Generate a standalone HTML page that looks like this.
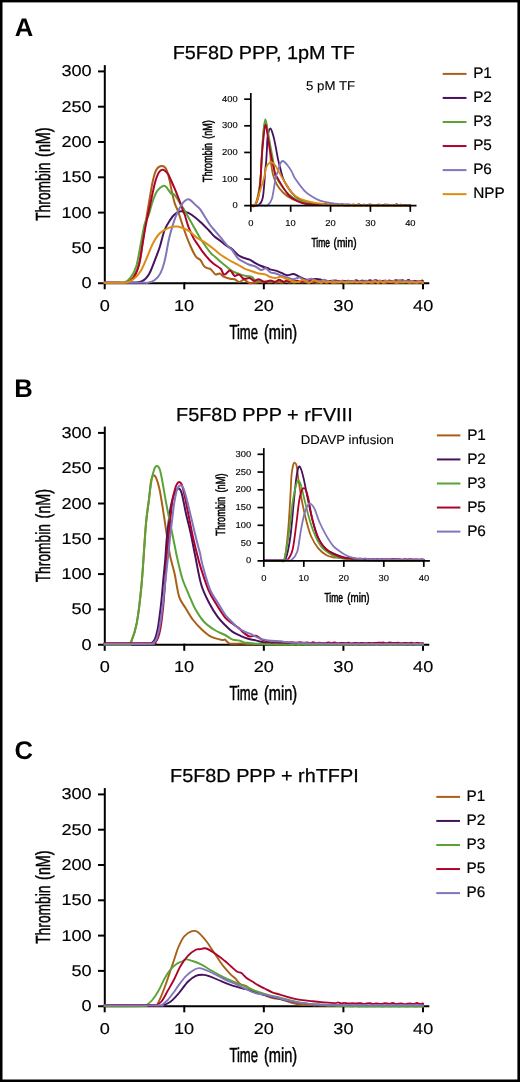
<!DOCTYPE html>
<html><head><meta charset="utf-8"><style>html,body{margin:0;padding:0;background:#fff;overflow:hidden}svg{display:block;will-change:transform}</style></head><body>
<svg width="520" height="1082" viewBox="0 0 520 1082" font-family="Liberation Sans, sans-serif" text-rendering="geometricPrecision">
<rect width="520" height="1082" fill="#fff"/>
<text transform="translate(14.68,35.90) scale(1.000,1)" font-size="25.60" font-weight="bold" fill="#000">A</text>
<line x1="104.80" y1="65.10" x2="104.80" y2="284.20" stroke="#000" stroke-width="2" stroke-linecap="butt"/>
<line x1="98.00" y1="283.20" x2="429.30" y2="283.20" stroke="#000" stroke-width="2" stroke-linecap="butt"/>
<line x1="98.00" y1="247.90" x2="104.80" y2="247.90" stroke="#000" stroke-width="2" stroke-linecap="butt"/>
<line x1="98.00" y1="212.60" x2="104.80" y2="212.60" stroke="#000" stroke-width="2" stroke-linecap="butt"/>
<line x1="98.00" y1="177.30" x2="104.80" y2="177.30" stroke="#000" stroke-width="2" stroke-linecap="butt"/>
<line x1="98.00" y1="142.00" x2="104.80" y2="142.00" stroke="#000" stroke-width="2" stroke-linecap="butt"/>
<line x1="98.00" y1="106.70" x2="104.80" y2="106.70" stroke="#000" stroke-width="2" stroke-linecap="butt"/>
<line x1="98.00" y1="71.40" x2="104.80" y2="71.40" stroke="#000" stroke-width="2" stroke-linecap="butt"/>
<line x1="104.70" y1="282.20" x2="104.70" y2="289.30" stroke="#000" stroke-width="2" stroke-linecap="butt"/>
<line x1="184.27" y1="282.20" x2="184.27" y2="289.30" stroke="#000" stroke-width="2" stroke-linecap="butt"/>
<line x1="263.84" y1="282.20" x2="263.84" y2="289.30" stroke="#000" stroke-width="2" stroke-linecap="butt"/>
<line x1="343.41" y1="282.20" x2="343.41" y2="289.30" stroke="#000" stroke-width="2" stroke-linecap="butt"/>
<line x1="422.98" y1="282.20" x2="422.98" y2="289.30" stroke="#000" stroke-width="2" stroke-linecap="butt"/>
<text transform="translate(81.54,288.24) scale(1.160,1)" font-size="15.60" fill="#000" stroke="#000" stroke-width="0.15">0</text>
<text transform="translate(71.49,252.94) scale(1.160,1)" font-size="15.60" fill="#000" stroke="#000" stroke-width="0.15">50</text>
<text transform="translate(61.40,217.64) scale(1.160,1)" font-size="15.60" fill="#000" stroke="#000" stroke-width="0.15">100</text>
<text transform="translate(61.40,182.34) scale(1.160,1)" font-size="15.60" fill="#000" stroke="#000" stroke-width="0.15">150</text>
<text transform="translate(61.40,147.04) scale(1.160,1)" font-size="15.60" fill="#000" stroke="#000" stroke-width="0.15">200</text>
<text transform="translate(61.40,111.74) scale(1.160,1)" font-size="15.60" fill="#000" stroke="#000" stroke-width="0.15">250</text>
<text transform="translate(61.40,76.44) scale(1.160,1)" font-size="15.60" fill="#000" stroke="#000" stroke-width="0.15">300</text>
<text transform="translate(99.66,310.90) scale(1.160,1)" font-size="15.60" fill="#000" stroke="#000" stroke-width="0.15">0</text>
<text transform="translate(173.89,310.90) scale(1.160,1)" font-size="15.60" fill="#000" stroke="#000" stroke-width="0.15">10</text>
<text transform="translate(253.68,310.90) scale(1.160,1)" font-size="15.60" fill="#000" stroke="#000" stroke-width="0.15">20</text>
<text transform="translate(333.37,310.90) scale(1.160,1)" font-size="15.60" fill="#000" stroke="#000" stroke-width="0.15">30</text>
<text transform="translate(413.07,310.90) scale(1.160,1)" font-size="15.60" fill="#000" stroke="#000" stroke-width="0.15">40</text>
<text transform="translate(229.40,338.60) scale(0.643,1)" font-size="20.40" fill="#000" stroke="#000" stroke-width="0.5">Time</text>
<text transform="translate(263.89,338.60) scale(0.717,1)" font-size="20.40" fill="#000" stroke="#000" stroke-width="0.5">(min)</text>
<text transform="translate(50.00,156.90) rotate(-90) scale(0.704,1)" font-size="20.40" stroke="#000" stroke-width="0.5">(nM)</text>
<text transform="translate(50.00,220.81) rotate(-90) scale(0.677,1)" font-size="20.40" stroke="#000" stroke-width="0.5">Thrombin</text>
<text transform="translate(14.36,397.40) scale(1.000,1)" font-size="25.60" font-weight="bold" fill="#000">B</text>
<line x1="104.80" y1="426.60" x2="104.80" y2="645.70" stroke="#000" stroke-width="2" stroke-linecap="butt"/>
<line x1="98.00" y1="644.70" x2="429.30" y2="644.70" stroke="#000" stroke-width="2" stroke-linecap="butt"/>
<line x1="98.00" y1="609.40" x2="104.80" y2="609.40" stroke="#000" stroke-width="2" stroke-linecap="butt"/>
<line x1="98.00" y1="574.10" x2="104.80" y2="574.10" stroke="#000" stroke-width="2" stroke-linecap="butt"/>
<line x1="98.00" y1="538.80" x2="104.80" y2="538.80" stroke="#000" stroke-width="2" stroke-linecap="butt"/>
<line x1="98.00" y1="503.50" x2="104.80" y2="503.50" stroke="#000" stroke-width="2" stroke-linecap="butt"/>
<line x1="98.00" y1="468.20" x2="104.80" y2="468.20" stroke="#000" stroke-width="2" stroke-linecap="butt"/>
<line x1="98.00" y1="432.90" x2="104.80" y2="432.90" stroke="#000" stroke-width="2" stroke-linecap="butt"/>
<line x1="104.70" y1="643.70" x2="104.70" y2="650.80" stroke="#000" stroke-width="2" stroke-linecap="butt"/>
<line x1="184.27" y1="643.70" x2="184.27" y2="650.80" stroke="#000" stroke-width="2" stroke-linecap="butt"/>
<line x1="263.84" y1="643.70" x2="263.84" y2="650.80" stroke="#000" stroke-width="2" stroke-linecap="butt"/>
<line x1="343.41" y1="643.70" x2="343.41" y2="650.80" stroke="#000" stroke-width="2" stroke-linecap="butt"/>
<line x1="422.98" y1="643.70" x2="422.98" y2="650.80" stroke="#000" stroke-width="2" stroke-linecap="butt"/>
<text transform="translate(81.54,649.74) scale(1.160,1)" font-size="15.60" fill="#000" stroke="#000" stroke-width="0.15">0</text>
<text transform="translate(71.49,614.44) scale(1.160,1)" font-size="15.60" fill="#000" stroke="#000" stroke-width="0.15">50</text>
<text transform="translate(61.40,579.14) scale(1.160,1)" font-size="15.60" fill="#000" stroke="#000" stroke-width="0.15">100</text>
<text transform="translate(61.40,543.84) scale(1.160,1)" font-size="15.60" fill="#000" stroke="#000" stroke-width="0.15">150</text>
<text transform="translate(61.40,508.54) scale(1.160,1)" font-size="15.60" fill="#000" stroke="#000" stroke-width="0.15">200</text>
<text transform="translate(61.40,473.24) scale(1.160,1)" font-size="15.60" fill="#000" stroke="#000" stroke-width="0.15">250</text>
<text transform="translate(61.40,437.94) scale(1.160,1)" font-size="15.60" fill="#000" stroke="#000" stroke-width="0.15">300</text>
<text transform="translate(99.66,672.40) scale(1.160,1)" font-size="15.60" fill="#000" stroke="#000" stroke-width="0.15">0</text>
<text transform="translate(173.89,672.40) scale(1.160,1)" font-size="15.60" fill="#000" stroke="#000" stroke-width="0.15">10</text>
<text transform="translate(253.68,672.40) scale(1.160,1)" font-size="15.60" fill="#000" stroke="#000" stroke-width="0.15">20</text>
<text transform="translate(333.37,672.40) scale(1.160,1)" font-size="15.60" fill="#000" stroke="#000" stroke-width="0.15">30</text>
<text transform="translate(413.07,672.40) scale(1.160,1)" font-size="15.60" fill="#000" stroke="#000" stroke-width="0.15">40</text>
<text transform="translate(229.40,700.10) scale(0.643,1)" font-size="20.40" fill="#000" stroke="#000" stroke-width="0.5">Time</text>
<text transform="translate(263.89,700.10) scale(0.717,1)" font-size="20.40" fill="#000" stroke="#000" stroke-width="0.5">(min)</text>
<text transform="translate(50.00,518.40) rotate(-90) scale(0.704,1)" font-size="20.40" stroke="#000" stroke-width="0.5">(nM)</text>
<text transform="translate(50.00,582.31) rotate(-90) scale(0.677,1)" font-size="20.40" stroke="#000" stroke-width="0.5">Thrombin</text>
<text transform="translate(14.49,759.03) scale(1.000,1)" font-size="25.60" font-weight="bold" fill="#000">C</text>
<line x1="104.80" y1="788.10" x2="104.80" y2="1007.20" stroke="#000" stroke-width="2" stroke-linecap="butt"/>
<line x1="98.00" y1="1006.20" x2="429.30" y2="1006.20" stroke="#000" stroke-width="2" stroke-linecap="butt"/>
<line x1="98.00" y1="970.90" x2="104.80" y2="970.90" stroke="#000" stroke-width="2" stroke-linecap="butt"/>
<line x1="98.00" y1="935.60" x2="104.80" y2="935.60" stroke="#000" stroke-width="2" stroke-linecap="butt"/>
<line x1="98.00" y1="900.30" x2="104.80" y2="900.30" stroke="#000" stroke-width="2" stroke-linecap="butt"/>
<line x1="98.00" y1="865.00" x2="104.80" y2="865.00" stroke="#000" stroke-width="2" stroke-linecap="butt"/>
<line x1="98.00" y1="829.70" x2="104.80" y2="829.70" stroke="#000" stroke-width="2" stroke-linecap="butt"/>
<line x1="98.00" y1="794.40" x2="104.80" y2="794.40" stroke="#000" stroke-width="2" stroke-linecap="butt"/>
<line x1="104.70" y1="1005.20" x2="104.70" y2="1012.30" stroke="#000" stroke-width="2" stroke-linecap="butt"/>
<line x1="184.27" y1="1005.20" x2="184.27" y2="1012.30" stroke="#000" stroke-width="2" stroke-linecap="butt"/>
<line x1="263.84" y1="1005.20" x2="263.84" y2="1012.30" stroke="#000" stroke-width="2" stroke-linecap="butt"/>
<line x1="343.41" y1="1005.20" x2="343.41" y2="1012.30" stroke="#000" stroke-width="2" stroke-linecap="butt"/>
<line x1="422.98" y1="1005.20" x2="422.98" y2="1012.30" stroke="#000" stroke-width="2" stroke-linecap="butt"/>
<text transform="translate(81.54,1011.24) scale(1.160,1)" font-size="15.60" fill="#000" stroke="#000" stroke-width="0.15">0</text>
<text transform="translate(71.49,975.94) scale(1.160,1)" font-size="15.60" fill="#000" stroke="#000" stroke-width="0.15">50</text>
<text transform="translate(61.40,940.64) scale(1.160,1)" font-size="15.60" fill="#000" stroke="#000" stroke-width="0.15">100</text>
<text transform="translate(61.40,905.34) scale(1.160,1)" font-size="15.60" fill="#000" stroke="#000" stroke-width="0.15">150</text>
<text transform="translate(61.40,870.04) scale(1.160,1)" font-size="15.60" fill="#000" stroke="#000" stroke-width="0.15">200</text>
<text transform="translate(61.40,834.74) scale(1.160,1)" font-size="15.60" fill="#000" stroke="#000" stroke-width="0.15">250</text>
<text transform="translate(61.40,799.44) scale(1.160,1)" font-size="15.60" fill="#000" stroke="#000" stroke-width="0.15">300</text>
<text transform="translate(99.66,1033.90) scale(1.160,1)" font-size="15.60" fill="#000" stroke="#000" stroke-width="0.15">0</text>
<text transform="translate(173.89,1033.90) scale(1.160,1)" font-size="15.60" fill="#000" stroke="#000" stroke-width="0.15">10</text>
<text transform="translate(253.68,1033.90) scale(1.160,1)" font-size="15.60" fill="#000" stroke="#000" stroke-width="0.15">20</text>
<text transform="translate(333.37,1033.90) scale(1.160,1)" font-size="15.60" fill="#000" stroke="#000" stroke-width="0.15">30</text>
<text transform="translate(413.07,1033.90) scale(1.160,1)" font-size="15.60" fill="#000" stroke="#000" stroke-width="0.15">40</text>
<text transform="translate(229.40,1061.60) scale(0.643,1)" font-size="20.40" fill="#000" stroke="#000" stroke-width="0.5">Time</text>
<text transform="translate(263.89,1061.60) scale(0.717,1)" font-size="20.40" fill="#000" stroke="#000" stroke-width="0.5">(min)</text>
<text transform="translate(50.00,879.90) rotate(-90) scale(0.704,1)" font-size="20.40" stroke="#000" stroke-width="0.5">(nM)</text>
<text transform="translate(50.00,943.81) rotate(-90) scale(0.677,1)" font-size="20.40" stroke="#000" stroke-width="0.5">Thrombin</text>
<text transform="translate(172.72,59.40) scale(1.050,1)" font-size="18.90" fill="#000" stroke="#000" stroke-width="0.25">F5F8D PPP, 1pM TF</text>
<text transform="translate(176.09,420.90) scale(1.050,1)" font-size="18.90" fill="#000" stroke="#000" stroke-width="0.25">F5F8D PPP + rFVIII</text>
<text transform="translate(170.01,782.40) scale(1.050,1)" font-size="18.90" fill="#000" stroke="#000" stroke-width="0.25">F5F8D PPP + rhTFPI</text>
<line x1="442.70" y1="73.90" x2="466.50" y2="73.90" stroke="#aa5f16" stroke-width="2" stroke-linecap="butt"/>
<text transform="translate(473.13,78.20) scale(1.010,1)" font-size="15.20" fill="#000" stroke="#000" stroke-width="0.2">P1</text>
<line x1="442.70" y1="97.95" x2="466.50" y2="97.95" stroke="#47125d" stroke-width="2" stroke-linecap="butt"/>
<text transform="translate(473.13,102.25) scale(1.010,1)" font-size="15.20" fill="#000" stroke="#000" stroke-width="0.2">P2</text>
<line x1="442.70" y1="122.00" x2="466.50" y2="122.00" stroke="#5aa336" stroke-width="2" stroke-linecap="butt"/>
<text transform="translate(473.13,126.30) scale(1.010,1)" font-size="15.20" fill="#000" stroke="#000" stroke-width="0.2">P3</text>
<line x1="442.70" y1="146.05" x2="466.50" y2="146.05" stroke="#ad022c" stroke-width="2" stroke-linecap="butt"/>
<text transform="translate(473.13,150.35) scale(1.010,1)" font-size="15.20" fill="#000" stroke="#000" stroke-width="0.2">P5</text>
<line x1="442.70" y1="170.10" x2="466.50" y2="170.10" stroke="#8175bb" stroke-width="2" stroke-linecap="butt"/>
<text transform="translate(473.13,174.40) scale(1.010,1)" font-size="15.20" fill="#000" stroke="#000" stroke-width="0.2">P6</text>
<line x1="442.70" y1="194.15" x2="466.50" y2="194.15" stroke="#df8b14" stroke-width="2" stroke-linecap="butt"/>
<text transform="translate(473.13,198.45) scale(1.010,1)" font-size="15.20" fill="#000" stroke="#000" stroke-width="0.2">NPP</text>
<line x1="436.90" y1="435.40" x2="460.40" y2="435.40" stroke="#aa5f16" stroke-width="2" stroke-linecap="butt"/>
<text transform="translate(467.13,439.70) scale(1.010,1)" font-size="15.20" fill="#000" stroke="#000" stroke-width="0.2">P1</text>
<line x1="436.90" y1="459.45" x2="460.40" y2="459.45" stroke="#47125d" stroke-width="2" stroke-linecap="butt"/>
<text transform="translate(467.13,463.75) scale(1.010,1)" font-size="15.20" fill="#000" stroke="#000" stroke-width="0.2">P2</text>
<line x1="436.90" y1="483.50" x2="460.40" y2="483.50" stroke="#5aa336" stroke-width="2" stroke-linecap="butt"/>
<text transform="translate(467.13,487.80) scale(1.010,1)" font-size="15.20" fill="#000" stroke="#000" stroke-width="0.2">P3</text>
<line x1="436.90" y1="507.55" x2="460.40" y2="507.55" stroke="#ad022c" stroke-width="2" stroke-linecap="butt"/>
<text transform="translate(467.13,511.85) scale(1.010,1)" font-size="15.20" fill="#000" stroke="#000" stroke-width="0.2">P5</text>
<line x1="436.90" y1="531.60" x2="460.40" y2="531.60" stroke="#8175bb" stroke-width="2" stroke-linecap="butt"/>
<text transform="translate(467.13,535.90) scale(1.010,1)" font-size="15.20" fill="#000" stroke="#000" stroke-width="0.2">P6</text>
<line x1="436.30" y1="796.90" x2="460.00" y2="796.90" stroke="#aa5f16" stroke-width="2" stroke-linecap="butt"/>
<text transform="translate(466.53,801.20) scale(1.010,1)" font-size="15.20" fill="#000" stroke="#000" stroke-width="0.2">P1</text>
<line x1="436.30" y1="820.95" x2="460.00" y2="820.95" stroke="#47125d" stroke-width="2" stroke-linecap="butt"/>
<text transform="translate(466.53,825.25) scale(1.010,1)" font-size="15.20" fill="#000" stroke="#000" stroke-width="0.2">P2</text>
<line x1="436.30" y1="845.00" x2="460.00" y2="845.00" stroke="#5aa336" stroke-width="2" stroke-linecap="butt"/>
<text transform="translate(466.53,849.30) scale(1.010,1)" font-size="15.20" fill="#000" stroke="#000" stroke-width="0.2">P3</text>
<line x1="436.30" y1="869.05" x2="460.00" y2="869.05" stroke="#ad022c" stroke-width="2" stroke-linecap="butt"/>
<text transform="translate(466.53,873.35) scale(1.010,1)" font-size="15.20" fill="#000" stroke="#000" stroke-width="0.2">P5</text>
<line x1="436.30" y1="893.10" x2="460.00" y2="893.10" stroke="#8175bb" stroke-width="2" stroke-linecap="butt"/>
<text transform="translate(466.53,897.40) scale(1.010,1)" font-size="15.20" fill="#000" stroke="#000" stroke-width="0.2">P6</text>
<path d="M104.50,282.70 C106.92,282.70 115.42,282.73 119.00,282.70 C122.58,282.67 123.67,283.37 126.00,282.50 C128.33,281.63 130.75,280.75 133.00,277.50 C135.25,274.25 137.83,269.25 139.50,263.00 C141.17,256.75 142.05,246.33 143.00,240.00 C143.95,233.67 144.17,231.47 145.20,225.00 C146.23,218.53 147.95,208.45 149.20,201.20 C150.45,193.95 151.53,186.70 152.70,181.50 C153.87,176.30 154.77,172.58 156.20,170.00 C157.63,167.42 159.67,166.20 161.30,166.00 C162.93,165.80 164.63,166.47 166.00,168.80 C167.37,171.13 168.53,176.22 169.50,180.00 C170.47,183.78 170.93,187.65 171.80,191.50 C172.67,195.35 173.75,200.02 174.70,203.10 C175.65,206.18 176.73,208.02 177.50,210.00 C178.27,211.98 178.18,211.67 179.30,215.00 C180.42,218.33 182.42,225.00 184.20,230.00 C185.98,235.00 188.07,240.58 190.00,245.00 C191.93,249.42 194.07,254.00 195.80,256.50 C197.53,259.00 199.07,258.45 200.40,260.00 C201.73,261.55 202.65,264.45 203.80,265.80 C204.95,267.15 206.13,267.53 207.30,268.10 C208.47,268.67 209.45,268.15 210.80,269.20 C212.15,270.25 213.93,273.68 215.40,274.40 C216.87,275.12 218.13,273.08 219.60,273.50 C221.07,273.92 222.47,276.03 224.20,276.90 C225.93,277.77 228.27,278.32 230.00,278.70 C231.73,279.08 233.07,278.63 234.60,279.20 C236.13,279.77 237.67,282.00 239.20,282.10 C240.73,282.20 242.07,279.63 243.80,279.80 C245.53,279.97 248.05,282.62 249.60,283.10 C251.15,283.58 252.08,282.77 253.10,282.70 C254.12,282.63 254.84,282.79 255.70,282.71 C256.56,282.63 257.51,282.33 258.28,282.23 C259.06,282.12 259.59,282.02 260.36,282.07 C261.14,282.12 262.09,282.57 262.93,282.53 C263.77,282.50 264.60,281.87 265.40,281.84 C266.21,281.82 266.90,282.29 267.77,282.37 C268.63,282.45 269.69,282.36 270.60,282.32 C271.52,282.27 272.42,282.01 273.24,282.09 C274.06,282.17 274.66,282.76 275.53,282.79 C276.39,282.82 277.47,282.30 278.44,282.28 C279.41,282.26 280.38,282.70 281.36,282.70 C282.34,282.69 283.46,282.37 284.32,282.27 C285.17,282.17 285.64,282.06 286.49,282.10 C287.34,282.14 288.56,282.47 289.41,282.51 C290.26,282.55 290.77,282.30 291.59,282.34 C292.41,282.38 293.36,282.80 294.33,282.76 C295.30,282.71 296.50,282.15 297.40,282.07 C298.29,281.99 298.90,282.19 299.69,282.25 C300.48,282.31 301.23,282.46 302.14,282.44 C303.05,282.42 304.20,282.06 305.17,282.12 C306.13,282.19 306.97,282.91 307.92,282.84 C308.86,282.78 310.00,281.78 310.83,281.72 C311.67,281.66 312.14,282.35 312.94,282.48 C313.75,282.61 314.75,282.51 315.65,282.51 C316.55,282.50 317.39,282.43 318.34,282.46 C319.29,282.49 320.47,282.76 321.34,282.69 C322.20,282.61 322.77,282.02 323.54,282.00 C324.31,281.98 325.11,282.46 325.94,282.56 C326.78,282.67 327.71,282.74 328.53,282.61 C329.34,282.49 329.98,281.78 330.83,281.82 C331.68,281.86 332.68,282.75 333.63,282.87 C334.58,282.98 335.64,282.61 336.52,282.50 C337.41,282.39 338.09,282.22 338.95,282.22 C339.81,282.22 340.81,282.50 341.67,282.50 C342.54,282.50 343.36,282.19 344.15,282.22 C344.93,282.24 345.63,282.63 346.36,282.65 C347.08,282.67 347.66,282.41 348.49,282.36 C349.32,282.30 350.36,282.28 351.35,282.32 C352.34,282.36 353.42,282.65 354.45,282.58 C355.48,282.52 356.57,281.91 357.55,281.92 C358.53,281.92 359.44,282.63 360.32,282.62 C361.21,282.60 361.96,281.82 362.87,281.84 C363.78,281.85 364.86,282.66 365.78,282.70 C366.69,282.74 367.50,282.12 368.35,282.09 C369.19,282.06 369.96,282.43 370.85,282.52 C371.75,282.61 372.80,282.74 373.71,282.64 C374.62,282.53 375.49,281.86 376.30,281.88 C377.10,281.90 377.81,282.68 378.56,282.75 C379.30,282.83 379.99,282.40 380.76,282.33 C381.54,282.26 382.39,282.23 383.22,282.33 C384.05,282.42 384.95,282.90 385.77,282.89 C386.58,282.87 387.22,282.32 388.11,282.24 C389.00,282.17 390.22,282.38 391.11,282.42 C392.00,282.46 392.64,282.48 393.47,282.48 C394.29,282.48 395.20,282.35 396.04,282.40 C396.89,282.46 397.62,282.84 398.52,282.81 C399.42,282.79 400.49,282.35 401.43,282.27 C402.38,282.18 403.23,282.30 404.20,282.31 C405.17,282.32 406.28,282.32 407.24,282.33 C408.20,282.35 409.08,282.34 409.95,282.39 C410.81,282.44 411.54,282.76 412.44,282.66 C413.34,282.55 414.47,281.74 415.35,281.76 C416.23,281.79 416.91,282.66 417.73,282.79 C418.55,282.92 419.50,282.67 420.28,282.54 C421.05,282.40 421.93,281.90 422.39,281.97 C422.84,282.03 422.90,282.74 423.00,282.90" fill="none" stroke="#aa5f16" stroke-width="2.0" stroke-linejoin="round" stroke-linecap="round"/>
<path d="M104.50,282.70 C108.75,282.70 123.73,282.95 130.00,282.70 C136.27,282.45 138.93,282.62 142.10,281.20 C145.27,279.78 146.88,277.67 149.00,274.20 C151.12,270.73 152.97,265.07 154.80,260.40 C156.63,255.73 158.37,251.27 160.00,246.20 C161.63,241.13 162.87,234.43 164.60,230.00 C166.33,225.57 168.75,222.17 170.40,219.60 C172.05,217.03 173.03,215.95 174.50,214.60 C175.97,213.25 177.25,211.92 179.20,211.50 C181.15,211.08 184.08,211.52 186.20,212.10 C188.32,212.68 189.53,213.37 191.90,215.00 C194.27,216.63 197.63,219.40 200.40,221.90 C203.17,224.40 206.20,227.60 208.50,230.00 C210.80,232.40 212.15,234.43 214.20,236.30 C216.25,238.17 218.75,239.62 220.80,241.20 C222.85,242.78 224.58,244.47 226.50,245.80 C228.42,247.13 230.37,247.67 232.30,249.20 C234.23,250.73 236.18,253.55 238.10,255.00 C240.02,256.45 241.88,257.13 243.80,257.90 C245.72,258.67 247.67,258.73 249.60,259.60 C251.53,260.47 253.47,262.03 255.40,263.10 C257.33,264.17 259.08,265.13 261.20,266.00 C263.32,266.87 266.63,267.73 268.10,268.30 C269.57,268.87 268.72,269.02 270.00,269.40 C271.28,269.78 273.88,270.02 275.80,270.60 C277.72,271.18 279.58,272.13 281.50,272.90 C283.42,273.67 285.37,275.02 287.30,275.20 C289.23,275.38 291.37,273.90 293.10,274.00 C294.83,274.10 296.17,275.12 297.70,275.80 C299.23,276.48 300.77,277.43 302.30,278.10 C303.83,278.77 305.37,279.62 306.90,279.80 C308.43,279.98 309.57,279.30 311.50,279.20 C313.43,279.10 316.38,279.00 318.50,279.20 C320.62,279.40 322.28,280.02 324.20,280.40 C326.12,280.78 328.60,281.40 330.00,281.50 C331.40,281.60 331.76,281.18 332.60,281.02 C333.44,280.86 334.20,280.54 335.06,280.54 C335.93,280.53 336.99,280.79 337.80,280.97 C338.60,281.15 339.15,281.64 339.89,281.61 C340.63,281.58 341.33,280.88 342.24,280.79 C343.15,280.69 344.34,281.08 345.35,281.06 C346.37,281.05 347.36,280.70 348.30,280.70 C349.25,280.70 350.13,281.01 351.05,281.06 C351.96,281.12 352.90,281.16 353.79,281.01 C354.68,280.86 355.51,280.05 356.41,280.16 C357.31,280.28 358.25,281.66 359.19,281.71 C360.13,281.75 361.18,280.50 362.06,280.44 C362.94,280.38 363.56,281.28 364.45,281.37 C365.35,281.46 366.47,281.16 367.43,280.98 C368.40,280.80 369.32,280.25 370.26,280.30 C371.20,280.35 372.20,281.28 373.08,281.26 C373.97,281.24 374.74,280.19 375.57,280.17 C376.41,280.16 377.19,281.01 378.12,281.18 C379.04,281.35 380.24,281.22 381.11,281.20 C381.98,281.19 382.45,281.08 383.33,281.11 C384.22,281.13 385.45,281.37 386.42,281.33 C387.39,281.30 388.26,280.81 389.15,280.90 C390.04,280.98 390.91,281.87 391.76,281.83 C392.60,281.79 393.35,280.85 394.20,280.66 C395.06,280.47 395.98,280.67 396.89,280.70 C397.80,280.74 398.72,280.94 399.68,280.86 C400.64,280.78 401.69,280.07 402.65,280.22 C403.61,280.36 404.47,281.76 405.43,281.73 C406.39,281.70 407.40,280.02 408.40,280.06 C409.40,280.09 410.45,281.78 411.42,281.94 C412.40,282.11 413.28,281.13 414.24,281.05 C415.21,280.97 416.30,281.42 417.19,281.48 C418.08,281.55 418.68,281.61 419.57,281.44 C420.46,281.26 421.96,280.35 422.53,280.44 C423.11,280.53 422.92,281.74 423.00,282.00" fill="none" stroke="#47125d" stroke-width="2.0" stroke-linejoin="round" stroke-linecap="round"/>
<path d="M104.50,282.70 C106.75,282.70 114.62,282.77 118.00,282.70 C121.38,282.63 122.72,283.13 124.80,282.30 C126.88,281.47 128.58,280.38 130.50,277.70 C132.42,275.02 134.57,271.97 136.30,266.20 C138.03,260.43 139.52,250.10 140.90,243.10 C142.28,236.10 143.30,228.88 144.60,224.20 C145.90,219.52 147.35,218.83 148.70,215.00 C150.05,211.17 151.27,205.23 152.70,201.20 C154.13,197.17 155.57,193.35 157.30,190.80 C159.03,188.25 161.65,186.57 163.10,185.90 C164.55,185.23 165.13,186.15 166.00,186.80 C166.87,187.45 167.43,188.67 168.30,189.80 C169.17,190.93 170.33,192.92 171.20,193.60 C172.07,194.28 172.83,193.57 173.50,193.90 C174.17,194.23 174.53,194.75 175.20,195.60 C175.87,196.45 176.63,197.57 177.50,199.00 C178.37,200.43 179.43,202.65 180.40,204.20 C181.37,205.75 182.23,206.57 183.30,208.30 C184.37,210.03 185.30,211.95 186.80,214.60 C188.30,217.25 190.42,220.87 192.30,224.20 C194.18,227.53 196.18,231.33 198.10,234.60 C200.02,237.87 201.68,240.72 203.80,243.80 C205.92,246.88 208.93,250.95 210.80,253.10 C212.67,255.25 213.33,255.23 215.00,256.70 C216.67,258.17 218.88,260.27 220.80,261.90 C222.72,263.53 224.58,264.95 226.50,266.50 C228.42,268.05 230.37,270.03 232.30,271.20 C234.23,272.37 235.98,272.73 238.10,273.50 C240.22,274.27 242.70,275.23 245.00,275.80 C247.30,276.37 250.17,276.13 251.90,276.90 C253.63,277.67 253.47,279.63 255.40,280.40 C257.33,281.17 260.23,281.32 263.50,281.50 C266.77,281.68 272.65,281.51 275.00,281.50 C277.35,281.49 276.75,281.48 277.60,281.45 C278.45,281.43 279.32,281.44 280.09,281.37 C280.87,281.31 281.38,281.01 282.24,281.09 C283.11,281.17 284.29,281.82 285.28,281.88 C286.26,281.95 287.23,281.45 288.15,281.48 C289.07,281.51 289.97,281.97 290.79,282.04 C291.61,282.12 292.29,282.08 293.05,281.91 C293.81,281.75 294.48,280.99 295.35,281.04 C296.23,281.09 297.32,282.09 298.29,282.22 C299.27,282.35 300.32,281.82 301.21,281.80 C302.09,281.78 302.74,282.15 303.61,282.08 C304.48,282.02 305.48,281.41 306.45,281.43 C307.42,281.45 308.49,282.11 309.45,282.19 C310.40,282.28 311.27,281.98 312.16,281.95 C313.04,281.91 313.90,281.85 314.76,281.96 C315.62,282.07 316.40,282.71 317.33,282.60 C318.27,282.49 319.44,281.34 320.39,281.29 C321.34,281.24 322.09,282.24 323.04,282.31 C323.98,282.39 325.06,281.82 326.06,281.74 C327.06,281.66 328.12,281.77 329.06,281.84 C329.99,281.91 330.78,282.17 331.67,282.16 C332.55,282.15 333.55,281.73 334.37,281.80 C335.20,281.86 335.76,282.50 336.62,282.56 C337.48,282.62 338.70,282.29 339.54,282.17 C340.39,282.05 340.92,281.80 341.67,281.84 C342.42,281.88 343.22,282.39 344.04,282.39 C344.87,282.39 345.67,281.81 346.61,281.85 C347.56,281.89 348.79,282.59 349.73,282.62 C350.67,282.66 351.36,282.13 352.24,282.06 C353.11,281.99 354.11,282.18 354.98,282.19 C355.84,282.20 356.62,282.21 357.43,282.12 C358.24,282.03 358.94,281.55 359.84,281.64 C360.75,281.73 362.00,282.60 362.86,282.68 C363.72,282.75 364.17,282.21 365.01,282.08 C365.84,281.96 367.01,281.89 367.88,281.94 C368.75,281.99 369.44,282.43 370.21,282.39 C370.97,282.36 371.74,281.81 372.47,281.74 C373.20,281.67 373.74,281.99 374.60,281.98 C375.45,281.96 376.63,281.72 377.61,281.64 C378.59,281.57 379.63,281.34 380.45,281.51 C381.28,281.67 381.69,282.67 382.55,282.65 C383.42,282.64 384.71,281.51 385.64,281.42 C386.57,281.34 387.27,282.13 388.14,282.16 C389.02,282.20 390.02,281.65 390.87,281.64 C391.72,281.63 392.43,281.94 393.25,282.10 C394.08,282.26 394.96,282.73 395.80,282.59 C396.63,282.45 397.46,281.30 398.27,281.27 C399.09,281.24 399.94,282.22 400.70,282.41 C401.46,282.61 401.99,282.51 402.82,282.42 C403.66,282.33 404.84,281.84 405.72,281.87 C406.60,281.90 407.19,282.62 408.10,282.60 C409.02,282.59 410.30,281.84 411.20,281.80 C412.10,281.76 412.76,282.23 413.50,282.34 C414.24,282.46 414.82,282.53 415.64,282.48 C416.46,282.43 417.60,282.09 418.42,282.05 C419.24,282.02 419.80,282.34 420.54,282.29 C421.29,282.23 422.47,281.67 422.88,281.74 C423.29,281.80 422.98,282.54 423.00,282.70" fill="none" stroke="#5aa336" stroke-width="2.0" stroke-linejoin="round" stroke-linecap="round"/>
<path d="M104.50,282.70 C106.75,282.70 114.43,282.67 118.00,282.70 C121.57,282.73 123.43,283.55 125.90,282.90 C128.37,282.25 130.68,281.58 132.80,278.80 C134.92,276.02 136.95,272.15 138.60,266.20 C140.25,260.25 141.50,249.97 142.70,243.10 C143.90,236.23 144.52,231.60 145.80,225.00 C147.08,218.40 148.87,210.55 150.40,203.50 C151.93,196.45 153.57,187.90 155.00,182.70 C156.43,177.50 157.65,174.45 159.00,172.30 C160.35,170.15 161.65,169.60 163.10,169.80 C164.55,170.00 166.40,171.80 167.70,173.50 C169.00,175.20 169.73,177.47 170.90,180.00 C172.07,182.53 173.60,186.10 174.70,188.70 C175.80,191.30 176.55,193.20 177.50,195.60 C178.45,198.00 179.43,200.42 180.40,203.10 C181.37,205.78 182.57,209.72 183.30,211.70 C184.03,213.68 183.88,212.33 184.80,215.00 C185.72,217.67 187.35,223.85 188.80,227.70 C190.25,231.55 191.95,235.22 193.50,238.10 C195.05,240.98 196.57,242.70 198.10,245.00 C199.63,247.30 200.97,249.60 202.70,251.90 C204.43,254.20 206.97,257.07 208.50,258.80 C210.03,260.53 210.82,261.30 211.90,262.30 C212.98,263.30 213.52,263.72 215.00,264.80 C216.48,265.88 219.27,267.17 220.80,268.80 C222.33,270.43 222.67,274.30 224.20,274.60 C225.73,274.90 228.27,270.40 230.00,270.60 C231.73,270.80 233.07,275.13 234.60,275.80 C236.13,276.47 237.67,274.12 239.20,274.60 C240.73,275.08 242.07,278.12 243.80,278.70 C245.53,279.28 247.87,277.72 249.60,278.10 C251.33,278.48 252.67,280.82 254.20,281.00 C255.73,281.18 257.07,279.02 258.80,279.20 C260.53,279.38 262.67,281.90 264.60,282.10 C266.53,282.30 268.67,280.40 270.40,280.40 C272.13,280.40 273.53,282.20 275.00,282.10 C276.47,282.00 277.73,279.80 279.20,279.80 C280.67,279.80 282.60,281.97 283.80,282.10 C285.00,282.23 285.48,280.66 286.40,280.58 C287.32,280.49 288.35,281.66 289.31,281.60 C290.27,281.54 291.33,280.21 292.16,280.22 C292.98,280.22 293.40,281.52 294.27,281.62 C295.13,281.73 296.31,280.84 297.33,280.86 C298.34,280.88 299.41,281.59 300.34,281.72 C301.28,281.86 302.04,281.83 302.91,281.68 C303.78,281.53 304.77,280.77 305.56,280.83 C306.35,280.88 306.91,282.02 307.65,282.01 C308.40,281.99 309.15,280.82 310.02,280.75 C310.90,280.68 311.93,281.39 312.90,281.57 C313.86,281.75 314.87,281.85 315.81,281.83 C316.75,281.81 317.73,281.46 318.53,281.45 C319.33,281.43 319.88,281.73 320.61,281.75 C321.34,281.77 322.01,281.70 322.91,281.56 C323.81,281.42 325.10,280.88 326.01,280.89 C326.93,280.90 327.56,281.67 328.39,281.63 C329.23,281.59 330.21,280.68 331.03,280.65 C331.86,280.62 332.48,281.46 333.33,281.46 C334.17,281.47 335.16,280.64 336.12,280.66 C337.09,280.67 338.22,281.32 339.13,281.53 C340.04,281.74 340.81,281.92 341.59,281.91 C342.37,281.91 343.05,281.56 343.82,281.51 C344.59,281.45 345.47,281.59 346.21,281.59 C346.96,281.58 347.55,281.54 348.30,281.47 C349.05,281.40 349.84,281.04 350.73,281.18 C351.62,281.31 352.77,282.29 353.66,282.27 C354.55,282.25 355.20,281.12 356.07,281.05 C356.94,280.98 357.90,281.72 358.88,281.83 C359.87,281.95 360.98,281.92 361.98,281.75 C362.97,281.58 364.01,280.76 364.84,280.82 C365.66,280.88 366.17,282.10 366.93,282.10 C367.69,282.11 368.64,280.91 369.40,280.85 C370.15,280.78 370.76,281.58 371.48,281.73 C372.21,281.89 372.99,281.96 373.75,281.77 C374.51,281.58 375.15,280.59 376.04,280.58 C376.93,280.57 378.17,281.57 379.08,281.70 C380.00,281.84 380.68,281.53 381.52,281.38 C382.37,281.23 383.34,280.67 384.15,280.80 C384.95,280.94 385.49,282.25 386.34,282.19 C387.19,282.12 388.41,280.59 389.25,280.41 C390.09,280.22 390.65,280.84 391.37,281.08 C392.08,281.32 392.73,281.96 393.54,281.84 C394.36,281.71 395.40,280.34 396.26,280.34 C397.12,280.33 397.84,281.64 398.69,281.81 C399.54,281.97 400.50,281.37 401.34,281.32 C402.18,281.28 402.99,281.38 403.75,281.53 C404.51,281.68 405.08,282.43 405.91,282.21 C406.74,281.99 407.86,280.28 408.71,280.22 C409.55,280.16 410.06,281.70 410.95,281.86 C411.85,282.02 413.13,281.25 414.06,281.17 C414.99,281.10 415.70,281.31 416.56,281.41 C417.43,281.52 418.38,281.88 419.26,281.81 C420.13,281.74 421.19,280.93 421.81,281.01 C422.44,281.09 422.80,282.09 423.00,282.30" fill="none" stroke="#ad022c" stroke-width="2.0" stroke-linejoin="round" stroke-linecap="round"/>
<path d="M104.50,282.70 C110.42,282.70 132.78,282.70 140.00,282.70 C147.22,282.70 145.33,283.15 147.80,282.70 C150.27,282.25 152.68,281.60 154.80,280.00 C156.92,278.40 158.87,276.23 160.50,273.10 C162.13,269.97 163.15,267.03 164.60,261.20 C166.05,255.37 167.67,244.65 169.20,238.10 C170.73,231.55 172.42,226.20 173.80,221.90 C175.18,217.60 176.20,215.15 177.50,212.30 C178.80,209.45 180.35,206.72 181.60,204.80 C182.85,202.88 183.85,201.72 185.00,200.80 C186.15,199.88 187.33,199.20 188.50,199.30 C189.67,199.40 190.75,200.38 192.00,201.40 C193.25,202.42 194.67,204.10 196.00,205.40 C197.33,206.70 197.73,206.07 200.00,209.20 C202.27,212.33 207.10,220.60 209.60,224.20 C212.10,227.80 213.13,228.55 215.00,230.80 C216.87,233.05 218.88,235.40 220.80,237.70 C222.72,240.00 224.58,242.48 226.50,244.60 C228.42,246.72 230.37,248.08 232.30,250.40 C234.23,252.72 236.18,256.58 238.10,258.50 C240.02,260.42 241.88,260.85 243.80,261.90 C245.72,262.95 247.67,264.03 249.60,264.80 C251.53,265.57 253.47,265.63 255.40,266.50 C257.33,267.37 259.47,269.70 261.20,270.00 C262.93,270.30 264.27,267.92 265.80,268.30 C267.33,268.68 268.73,271.43 270.40,272.30 C272.07,273.17 273.95,272.92 275.80,273.50 C277.65,274.08 279.58,275.13 281.50,275.80 C283.42,276.47 285.37,276.93 287.30,277.50 C289.23,278.07 290.98,279.20 293.10,279.20 C295.22,279.20 298.08,277.20 300.00,277.50 C301.92,277.80 302.68,280.80 304.60,281.00 C306.52,281.20 309.18,278.62 311.50,278.70 C313.82,278.78 316.38,281.32 318.50,281.50 C320.62,281.68 322.28,279.70 324.20,279.80 C326.12,279.90 328.60,281.98 330.00,282.10 C331.40,282.22 331.81,280.66 332.60,280.55 C333.39,280.44 333.89,281.24 334.74,281.43 C335.59,281.61 336.73,281.71 337.69,281.66 C338.64,281.60 339.55,281.05 340.46,281.08 C341.38,281.11 342.28,281.81 343.17,281.86 C344.07,281.91 344.99,281.47 345.86,281.38 C346.73,281.28 347.49,281.34 348.39,281.30 C349.28,281.26 350.24,281.19 351.22,281.13 C352.20,281.07 353.35,280.79 354.29,280.94 C355.22,281.09 356.05,281.94 356.83,282.04 C357.61,282.14 358.17,281.64 358.95,281.54 C359.73,281.44 360.67,281.46 361.51,281.43 C362.35,281.41 363.13,281.50 363.98,281.40 C364.84,281.30 365.79,280.71 366.61,280.80 C367.44,280.90 368.15,281.84 368.94,281.97 C369.73,282.09 370.52,281.79 371.36,281.55 C372.19,281.31 373.07,280.46 373.97,280.52 C374.86,280.57 375.78,281.89 376.75,281.90 C377.71,281.90 378.78,280.49 379.76,280.53 C380.73,280.58 381.65,282.16 382.60,282.16 C383.55,282.16 384.59,280.70 385.47,280.53 C386.36,280.37 387.00,281.00 387.92,281.16 C388.84,281.33 390.01,281.52 391.00,281.50 C391.99,281.47 392.96,281.00 393.87,281.03 C394.77,281.05 395.57,281.77 396.43,281.66 C397.28,281.54 398.15,280.32 399.02,280.35 C399.88,280.37 400.78,281.75 401.62,281.81 C402.46,281.87 403.15,280.79 404.06,280.72 C404.98,280.64 406.13,281.28 407.08,281.37 C408.03,281.45 408.83,281.26 409.75,281.20 C410.67,281.14 411.73,280.85 412.58,281.00 C413.44,281.15 414.04,282.04 414.89,282.10 C415.75,282.16 416.73,281.42 417.70,281.37 C418.67,281.32 419.84,281.66 420.73,281.80 C421.61,281.93 422.62,282.13 423.00,282.20" fill="none" stroke="#8175bb" stroke-width="2.0" stroke-linejoin="round" stroke-linecap="round"/>
<path d="M104.50,282.70 C107.08,282.70 116.23,282.77 120.00,282.70 C123.77,282.63 124.77,282.95 127.10,282.30 C129.43,281.65 131.70,280.72 134.00,278.80 C136.30,276.88 138.78,274.25 140.90,270.80 C143.02,267.35 144.77,262.53 146.70,258.10 C148.63,253.67 150.58,248.05 152.50,244.20 C154.42,240.35 156.38,237.27 158.20,235.00 C160.02,232.73 161.18,231.95 163.40,230.60 C165.62,229.25 169.18,227.58 171.50,226.90 C173.82,226.22 175.37,226.27 177.30,226.50 C179.23,226.73 180.98,227.43 183.10,228.30 C185.22,229.17 187.88,230.27 190.00,231.70 C192.12,233.13 194.07,235.55 195.80,236.90 C197.53,238.25 198.67,238.73 200.40,239.80 C202.13,240.87 204.08,241.85 206.20,243.30 C208.32,244.75 210.80,246.68 213.10,248.50 C215.40,250.32 217.77,252.53 220.00,254.20 C222.23,255.87 224.45,257.22 226.50,258.50 C228.55,259.78 230.37,260.85 232.30,261.90 C234.23,262.95 235.98,263.65 238.10,264.80 C240.22,265.95 242.70,267.73 245.00,268.80 C247.30,269.87 249.60,270.42 251.90,271.20 C254.20,271.98 256.48,272.93 258.80,273.50 C261.12,274.07 263.93,274.03 265.80,274.60 C267.67,275.17 268.33,276.32 270.00,276.90 C271.67,277.48 274.07,278.13 275.80,278.10 C277.53,278.07 278.67,276.60 280.40,276.70 C282.13,276.80 284.28,277.98 286.20,278.70 C288.12,279.42 289.98,280.43 291.90,281.00 C293.82,281.57 295.77,282.30 297.70,282.10 C299.63,281.90 301.58,279.70 303.50,279.80 C305.42,279.90 307.48,282.60 309.20,282.70 C310.92,282.80 311.87,280.40 313.80,280.40 C315.73,280.40 319.20,282.58 320.80,282.70 C322.40,282.82 322.49,281.15 323.40,281.10 C324.31,281.05 325.36,282.33 326.27,282.39 C327.19,282.45 327.98,281.44 328.87,281.44 C329.76,281.45 330.80,282.29 331.63,282.42 C332.45,282.56 332.95,282.35 333.80,282.25 C334.66,282.15 335.78,281.79 336.75,281.83 C337.72,281.87 338.72,282.60 339.63,282.49 C340.53,282.38 341.36,281.20 342.17,281.17 C342.98,281.14 343.60,282.15 344.49,282.32 C345.38,282.49 346.65,282.29 347.51,282.19 C348.36,282.09 348.75,281.70 349.61,281.71 C350.47,281.72 351.77,282.28 352.67,282.26 C353.56,282.25 354.24,281.59 354.97,281.62 C355.71,281.65 356.31,282.40 357.08,282.45 C357.86,282.51 358.81,282.04 359.62,281.96 C360.43,281.88 361.17,281.82 361.94,281.95 C362.71,282.08 363.47,282.67 364.25,282.73 C365.03,282.79 365.74,282.45 366.63,282.32 C367.52,282.19 368.63,281.96 369.58,281.98 C370.53,281.99 371.35,282.50 372.33,282.39 C373.31,282.28 374.56,281.24 375.44,281.33 C376.33,281.41 376.81,282.91 377.65,282.90 C378.49,282.89 379.50,281.33 380.48,281.28 C381.46,281.24 382.53,282.61 383.53,282.64 C384.53,282.67 385.59,281.59 386.48,281.46 C387.37,281.33 387.97,281.80 388.87,281.86 C389.77,281.93 390.93,281.91 391.87,281.85 C392.80,281.80 393.69,281.38 394.47,281.53 C395.26,281.68 395.75,282.70 396.59,282.74 C397.43,282.79 398.64,281.94 399.50,281.79 C400.36,281.65 400.91,281.79 401.76,281.86 C402.60,281.93 403.69,282.24 404.57,282.21 C405.45,282.18 406.19,281.61 407.04,281.68 C407.89,281.75 408.78,282.60 409.65,282.64 C410.52,282.67 411.40,281.92 412.27,281.89 C413.14,281.86 414.07,282.32 414.86,282.45 C415.65,282.57 416.11,282.80 416.99,282.64 C417.86,282.48 419.16,281.45 420.09,281.47 C421.02,281.50 422.09,282.52 422.58,282.78 C423.06,283.03 422.93,282.96 423.00,283.00" fill="none" stroke="#df8b14" stroke-width="2.0" stroke-linejoin="round" stroke-linecap="round"/>
<path d="M250.80,205.30 C251.50,205.30 253.70,206.85 255.00,205.30 C256.30,203.75 257.63,201.05 258.60,196.00 C259.57,190.95 260.15,183.50 260.80,175.00 C261.45,166.50 261.92,153.17 262.50,145.00 C263.08,136.83 263.82,129.78 264.30,126.00 C264.78,122.22 264.98,122.30 265.40,122.30 C265.82,122.30 266.33,123.38 266.80,126.00 C267.27,128.62 267.67,133.68 268.20,138.00 C268.73,142.32 269.57,148.03 270.00,151.90 C270.43,155.77 270.48,158.38 270.80,161.20 C271.12,164.02 271.52,166.50 271.90,168.80 C272.28,171.10 272.33,172.47 273.10,175.00 C273.87,177.53 274.85,181.08 276.50,184.00 C278.15,186.92 280.42,190.00 283.00,192.50 C285.58,195.00 288.33,197.17 292.00,199.00 C295.67,200.83 300.67,202.53 305.00,203.50 C309.33,204.47 315.43,204.61 318.00,204.80 C320.57,204.99 319.53,204.67 320.40,204.66 C321.27,204.66 322.40,204.75 323.21,204.79 C324.01,204.82 324.50,204.79 325.22,204.87 C325.94,204.94 326.80,205.19 327.53,205.24 C328.26,205.28 328.84,205.08 329.62,205.12 C330.40,205.15 331.44,205.43 332.21,205.45 C332.98,205.47 333.47,205.27 334.21,205.24 C334.95,205.22 335.80,205.30 336.66,205.29 C337.51,205.29 338.45,205.23 339.32,205.22 C340.18,205.20 340.99,205.13 341.85,205.19 C342.70,205.24 343.61,205.51 344.44,205.56 C345.27,205.60 346.03,205.42 346.82,205.44 C347.61,205.46 348.43,205.75 349.18,205.69 C349.94,205.63 350.55,205.09 351.36,205.08 C352.18,205.08 353.19,205.62 354.06,205.63 C354.94,205.65 355.81,205.22 356.60,205.18 C357.38,205.14 358.06,205.29 358.75,205.37 C359.44,205.45 359.98,205.68 360.75,205.67 C361.53,205.65 362.51,205.30 363.40,205.29 C364.29,205.27 365.21,205.58 366.10,205.59 C367.00,205.60 367.88,205.32 368.77,205.32 C369.66,205.33 370.61,205.64 371.43,205.64 C372.24,205.63 372.89,205.28 373.67,205.29 C374.44,205.30 375.33,205.64 376.09,205.69 C376.85,205.74 377.55,205.65 378.23,205.59 C378.92,205.53 379.50,205.31 380.19,205.32 C380.89,205.34 381.67,205.69 382.39,205.67 C383.11,205.65 383.74,205.21 384.50,205.21 C385.27,205.20 386.21,205.61 387.00,205.64 C387.79,205.66 388.47,205.41 389.23,205.36 C389.99,205.32 390.83,205.31 391.57,205.34 C392.31,205.38 392.85,205.60 393.67,205.58 C394.48,205.55 395.59,205.18 396.45,205.19 C397.32,205.20 398.14,205.62 398.87,205.65 C399.61,205.67 400.16,205.35 400.87,205.35 C401.57,205.36 402.38,205.68 403.10,205.69 C403.82,205.71 404.42,205.45 405.19,205.43 C405.96,205.41 406.89,205.53 407.74,205.59 C408.59,205.65 409.87,205.76 410.30,205.80" fill="none" stroke="#aa5f16" stroke-width="1.8" stroke-linejoin="round" stroke-linecap="round"/>
<path d="M250.80,205.30 C252.00,205.30 256.00,206.60 258.00,205.30 C260.00,204.00 261.57,203.58 262.80,197.50 C264.03,191.42 264.83,174.85 265.40,168.80 C265.97,162.75 265.95,164.40 266.20,161.20 C266.45,158.00 266.65,153.72 266.90,149.60 C267.15,145.48 267.12,140.02 267.70,136.50 C268.28,132.98 269.43,128.50 270.40,128.50 C271.37,128.50 272.60,133.37 273.50,136.50 C274.40,139.63 275.03,143.45 275.80,147.30 C276.57,151.15 277.33,156.02 278.10,159.60 C278.87,163.18 279.37,165.18 280.40,168.80 C281.43,172.42 281.85,176.75 284.30,181.30 C286.75,185.85 291.05,192.50 295.10,196.10 C299.15,199.70 304.45,201.50 308.60,202.90 C312.75,204.30 317.70,204.27 320.00,204.50 C322.30,204.73 321.62,204.33 322.40,204.30 C323.18,204.26 323.90,204.24 324.71,204.31 C325.51,204.38 326.39,204.64 327.25,204.71 C328.12,204.77 329.04,204.66 329.89,204.71 C330.75,204.76 331.49,205.03 332.38,205.03 C333.27,205.03 334.40,204.70 335.23,204.71 C336.06,204.72 336.65,205.05 337.37,205.08 C338.10,205.11 338.75,204.90 339.57,204.88 C340.40,204.86 341.49,204.95 342.35,204.96 C343.20,204.96 343.94,204.95 344.73,204.93 C345.52,204.92 346.31,204.85 347.10,204.88 C347.88,204.91 348.63,205.09 349.43,205.11 C350.22,205.12 351.11,204.97 351.87,204.99 C352.62,205.02 353.24,205.28 353.95,205.25 C354.67,205.23 355.42,204.87 356.16,204.83 C356.91,204.79 357.61,205.00 358.44,205.01 C359.27,205.02 360.36,204.88 361.16,204.89 C361.97,204.91 362.48,205.06 363.27,205.10 C364.05,205.14 365.11,205.18 365.87,205.14 C366.64,205.10 367.04,204.82 367.85,204.86 C368.65,204.90 369.84,205.33 370.69,205.38 C371.55,205.43 372.20,205.21 372.97,205.17 C373.73,205.12 374.52,205.11 375.29,205.11 C376.06,205.11 376.77,205.16 377.58,205.15 C378.40,205.14 379.34,205.04 380.19,205.05 C381.05,205.05 381.94,205.21 382.69,205.16 C383.44,205.11 383.98,204.71 384.70,204.74 C385.41,204.77 386.19,205.30 386.97,205.36 C387.74,205.41 388.52,205.09 389.37,205.07 C390.22,205.06 391.21,205.27 392.05,205.25 C392.90,205.23 393.56,204.95 394.44,204.95 C395.31,204.95 396.49,205.26 397.31,205.27 C398.12,205.29 398.62,205.10 399.35,205.05 C400.07,205.00 400.81,204.96 401.66,204.99 C402.50,205.01 403.51,205.22 404.39,205.22 C405.27,205.21 406.16,204.92 406.93,204.94 C407.70,204.96 408.45,205.26 409.02,205.33 C409.58,205.41 410.09,205.39 410.30,205.40" fill="none" stroke="#47125d" stroke-width="1.8" stroke-linejoin="round" stroke-linecap="round"/>
<path d="M250.80,205.30 C251.50,205.30 253.67,207.72 255.00,205.30 C256.33,202.88 257.83,195.85 258.80,190.80 C259.77,185.75 260.28,181.22 260.80,175.00 C261.32,168.78 261.45,160.93 261.90,153.50 C262.35,146.07 262.92,136.12 263.50,130.40 C264.08,124.68 264.70,119.20 265.40,119.20 C266.10,119.20 266.87,125.97 267.70,130.40 C268.53,134.83 269.43,140.42 270.40,145.80 C271.37,151.18 272.67,157.83 273.50,162.70 C274.33,167.57 273.82,170.78 275.40,175.00 C276.98,179.22 279.72,184.03 283.00,188.00 C286.28,191.97 289.72,196.10 295.10,198.80 C300.48,201.50 310.32,203.20 315.30,204.20 C320.28,205.20 322.98,204.73 325.00,204.80 C327.02,204.87 326.67,204.62 327.40,204.63 C328.13,204.63 328.69,204.79 329.38,204.82 C330.07,204.85 330.84,204.72 331.56,204.80 C332.28,204.88 332.95,205.24 333.69,205.30 C334.43,205.37 335.30,205.20 336.01,205.19 C336.73,205.18 337.25,205.20 337.97,205.25 C338.70,205.29 339.57,205.46 340.36,205.46 C341.15,205.46 341.84,205.23 342.71,205.25 C343.59,205.28 344.75,205.58 345.58,205.61 C346.42,205.65 346.92,205.45 347.71,205.47 C348.50,205.49 349.47,205.76 350.31,205.72 C351.16,205.67 351.95,205.21 352.78,205.20 C353.60,205.19 354.50,205.59 355.24,205.66 C355.99,205.73 356.43,205.64 357.24,205.64 C358.04,205.64 359.12,205.69 360.07,205.64 C361.02,205.60 362.14,205.41 362.94,205.36 C363.74,205.31 364.22,205.28 364.86,205.36 C365.50,205.44 366.01,205.84 366.78,205.83 C367.56,205.83 368.61,205.34 369.51,205.34 C370.41,205.34 371.37,205.81 372.17,205.83 C372.97,205.85 373.61,205.49 374.31,205.46 C375.01,205.42 375.69,205.57 376.38,205.62 C377.07,205.68 377.67,205.84 378.46,205.79 C379.25,205.74 380.26,205.31 381.10,205.33 C381.93,205.35 382.67,205.84 383.46,205.89 C384.26,205.94 385.09,205.64 385.88,205.63 C386.66,205.61 387.39,205.77 388.19,205.79 C389.00,205.80 389.82,205.73 390.71,205.69 C391.60,205.66 392.70,205.56 393.53,205.57 C394.36,205.57 394.85,205.75 395.68,205.73 C396.51,205.71 397.69,205.45 398.49,205.45 C399.28,205.45 399.69,205.75 400.45,205.75 C401.21,205.74 402.30,205.41 403.06,205.42 C403.82,205.42 404.20,205.73 405.00,205.77 C405.80,205.80 407.05,205.66 407.86,205.62 C408.67,205.58 409.45,205.47 409.86,205.52 C410.26,205.57 410.23,205.84 410.30,205.90" fill="none" stroke="#5aa336" stroke-width="1.8" stroke-linejoin="round" stroke-linecap="round"/>
<path d="M250.80,205.30 C251.50,205.30 253.57,207.72 255.00,205.30 C256.43,202.88 258.43,195.85 259.40,190.80 C260.37,185.75 260.45,179.93 260.80,175.00 C261.15,170.07 261.12,166.72 261.50,161.20 C261.88,155.68 262.45,147.93 263.10,141.90 C263.75,135.87 264.57,125.63 265.40,125.00 C266.23,124.37 267.27,133.62 268.10,138.10 C268.93,142.58 269.57,147.42 270.40,151.90 C271.23,156.38 272.27,161.15 273.10,165.00 C273.93,168.85 274.87,173.17 275.40,175.00 C275.93,176.83 274.13,172.70 276.30,176.00 C278.47,179.30 284.15,190.32 288.40,194.80 C292.65,199.28 297.37,201.27 301.80,202.90 C306.23,204.53 312.40,204.32 315.00,204.60 C317.60,204.88 316.58,204.77 317.40,204.60 C318.22,204.42 319.01,203.50 319.91,203.55 C320.80,203.60 321.81,204.84 322.77,204.90 C323.72,204.97 324.83,203.92 325.64,203.91 C326.45,203.90 326.87,204.81 327.61,204.85 C328.35,204.89 329.22,204.15 330.07,204.15 C330.92,204.15 331.94,204.70 332.70,204.83 C333.46,204.96 333.96,205.05 334.63,204.93 C335.30,204.80 335.99,204.01 336.74,204.07 C337.49,204.13 338.33,205.18 339.13,205.28 C339.93,205.38 340.68,204.68 341.53,204.66 C342.39,204.63 343.33,205.19 344.26,205.12 C345.19,205.06 346.22,204.29 347.12,204.28 C348.02,204.27 348.85,204.97 349.65,205.07 C350.46,205.17 351.17,204.92 351.92,204.87 C352.68,204.81 353.38,204.75 354.19,204.75 C354.99,204.75 355.96,204.93 356.75,204.85 C357.55,204.77 358.15,204.22 358.95,204.27 C359.74,204.32 360.72,205.09 361.52,205.16 C362.32,205.22 363.05,204.68 363.76,204.65 C364.46,204.62 365.05,204.95 365.75,204.97 C366.46,204.99 367.24,204.87 367.99,204.77 C368.74,204.68 369.51,204.32 370.24,204.41 C370.98,204.49 371.70,205.20 372.39,205.28 C373.07,205.36 373.64,204.96 374.37,204.90 C375.10,204.85 375.91,205.00 376.76,204.94 C377.62,204.87 378.58,204.50 379.50,204.53 C380.42,204.56 381.35,205.07 382.28,205.11 C383.21,205.15 384.22,204.86 385.07,204.76 C385.92,204.67 386.60,204.51 387.38,204.56 C388.16,204.61 389.02,205.03 389.76,205.08 C390.50,205.13 391.07,204.82 391.81,204.87 C392.55,204.91 393.40,205.46 394.19,205.34 C394.99,205.21 395.82,204.15 396.57,204.12 C397.33,204.09 398.05,205.06 398.74,205.16 C399.44,205.25 400.02,204.72 400.77,204.68 C401.51,204.64 402.36,204.85 403.20,204.92 C404.05,204.99 404.97,205.12 405.84,205.11 C406.72,205.10 407.71,204.80 408.45,204.85 C409.19,204.90 409.99,205.31 410.30,205.40" fill="none" stroke="#ad022c" stroke-width="1.8" stroke-linejoin="round" stroke-linecap="round"/>
<path d="M250.80,205.30 C252.67,205.30 259.22,205.32 262.00,205.30 C264.78,205.28 265.83,206.33 267.50,205.20 C269.17,204.07 270.62,203.15 272.00,198.50 C273.38,193.85 274.73,181.98 275.80,177.30 C276.87,172.62 277.77,172.45 278.40,170.40 C279.03,168.35 278.88,166.57 279.60,165.00 C280.32,163.43 281.42,161.00 282.70,161.00 C283.98,161.00 285.77,163.18 287.30,165.00 C288.83,166.82 290.60,169.63 291.90,171.90 C293.20,174.17 293.00,175.45 295.10,178.60 C297.20,181.75 301.68,187.82 304.50,190.80 C307.32,193.78 309.42,194.87 312.00,196.50 C314.58,198.13 317.00,199.55 320.00,200.60 C323.00,201.65 326.67,202.22 330.00,202.80 C333.33,203.38 337.93,203.93 340.00,204.10 C342.07,204.27 341.57,203.74 342.40,203.81 C343.23,203.88 344.13,204.44 344.99,204.53 C345.86,204.62 346.85,204.37 347.61,204.35 C348.37,204.34 348.87,204.38 349.55,204.45 C350.23,204.52 351.00,204.77 351.69,204.78 C352.38,204.79 352.97,204.48 353.70,204.53 C354.43,204.58 355.21,205.01 356.08,205.07 C356.94,205.12 357.94,204.83 358.88,204.86 C359.82,204.90 360.87,205.29 361.73,205.27 C362.58,205.24 363.16,204.75 364.00,204.73 C364.83,204.72 365.89,205.14 366.75,205.17 C367.60,205.20 368.40,204.92 369.15,204.91 C369.90,204.91 370.48,205.09 371.23,205.14 C371.99,205.18 372.85,205.22 373.67,205.19 C374.49,205.15 375.36,204.92 376.17,204.94 C376.97,204.97 377.74,205.34 378.50,205.35 C379.25,205.36 379.86,205.00 380.70,205.00 C381.53,205.01 382.55,205.41 383.49,205.38 C384.43,205.35 385.49,204.83 386.33,204.83 C387.18,204.83 387.85,205.33 388.55,205.38 C389.25,205.43 389.82,205.20 390.53,205.14 C391.25,205.08 392.01,204.98 392.81,205.01 C393.62,205.05 394.51,205.35 395.36,205.34 C396.22,205.33 397.09,204.93 397.96,204.94 C398.83,204.95 399.72,205.40 400.58,205.40 C401.44,205.39 402.28,204.88 403.14,204.90 C404.01,204.91 404.86,205.48 405.78,205.49 C406.70,205.50 407.90,204.95 408.65,204.96 C409.41,204.96 410.03,205.41 410.30,205.50" fill="none" stroke="#8175bb" stroke-width="1.8" stroke-linejoin="round" stroke-linecap="round"/>
<path d="M250.80,205.30 C251.33,205.22 253.12,205.20 254.00,204.80 C254.88,204.40 255.08,205.23 256.10,202.90 C257.12,200.57 258.75,195.07 260.10,190.80 C261.45,186.53 263.25,180.97 264.20,177.30 C265.15,173.63 265.15,170.98 265.80,168.80 C266.45,166.62 267.15,165.32 268.10,164.20 C269.05,163.08 270.35,161.97 271.50,162.10 C272.65,162.23 273.90,163.62 275.00,165.00 C276.10,166.38 276.55,167.68 278.10,170.40 C279.65,173.12 281.92,177.47 284.30,181.30 C286.68,185.13 289.70,190.48 292.40,193.40 C295.10,196.32 296.68,197.22 300.50,198.80 C304.32,200.38 311.22,202.00 315.30,202.90 C319.38,203.80 322.98,203.94 325.00,204.20 C327.02,204.46 326.56,204.43 327.40,204.46 C328.24,204.49 329.12,204.31 330.03,204.37 C330.94,204.44 331.93,204.82 332.85,204.86 C333.76,204.90 334.61,204.52 335.52,204.60 C336.44,204.68 337.53,205.26 338.33,205.32 C339.14,205.38 339.62,204.97 340.36,204.94 C341.09,204.92 341.91,205.15 342.74,205.18 C343.57,205.21 344.56,205.13 345.32,205.11 C346.08,205.09 346.53,204.96 347.31,205.05 C348.08,205.14 349.08,205.74 349.99,205.65 C350.90,205.56 351.82,204.50 352.74,204.51 C353.67,204.53 354.69,205.70 355.55,205.73 C356.41,205.76 357.08,204.68 357.90,204.70 C358.72,204.71 359.60,205.77 360.46,205.81 C361.32,205.85 362.27,204.98 363.05,204.93 C363.84,204.88 364.49,205.38 365.18,205.50 C365.87,205.62 366.43,205.71 367.19,205.66 C367.96,205.60 368.92,205.16 369.79,205.16 C370.66,205.16 371.55,205.69 372.43,205.67 C373.30,205.64 374.15,205.01 375.04,205.00 C375.93,204.98 376.84,205.59 377.76,205.57 C378.68,205.54 379.63,204.81 380.57,204.85 C381.50,204.89 382.46,205.76 383.36,205.80 C384.25,205.84 385.08,205.10 385.94,205.10 C386.79,205.09 387.67,205.81 388.49,205.75 C389.32,205.70 390.14,204.80 390.88,204.76 C391.62,204.73 392.15,205.50 392.95,205.54 C393.75,205.57 394.82,204.96 395.65,204.98 C396.48,205.00 397.10,205.64 397.94,205.67 C398.78,205.69 399.78,205.14 400.70,205.13 C401.62,205.12 402.54,205.54 403.46,205.62 C404.38,205.70 405.46,205.74 406.24,205.61 C407.02,205.47 407.49,204.75 408.16,204.81 C408.84,204.88 409.94,205.80 410.30,206.00" fill="none" stroke="#df8b14" stroke-width="1.8" stroke-linejoin="round" stroke-linecap="round"/>
<path d="M104.50,644.40 C108.42,644.40 123.58,644.75 128.00,644.40 C132.42,644.05 129.53,645.85 131.00,642.30 C132.47,638.75 135.03,632.72 136.80,623.10 C138.57,613.48 140.08,600.95 141.60,584.60 C143.12,568.25 144.70,538.90 145.90,525.00 C147.10,511.10 147.95,508.45 148.80,501.20 C149.65,493.95 150.25,485.78 151.00,481.50 C151.75,477.22 152.43,476.07 153.30,475.50 C154.17,474.93 155.15,475.75 156.20,478.10 C157.25,480.45 158.45,484.22 159.60,489.60 C160.75,494.98 161.88,502.77 163.10,510.40 C164.32,518.03 165.75,527.90 166.90,535.40 C168.05,542.90 168.72,549.00 170.00,555.40 C171.28,561.80 173.07,566.88 174.60,573.80 C176.13,580.72 177.40,591.25 179.20,596.90 C181.00,602.55 183.08,603.85 185.40,607.70 C187.72,611.55 190.28,616.28 193.10,620.00 C195.92,623.72 199.23,627.18 202.30,630.00 C205.37,632.82 208.17,635.23 211.50,636.90 C214.83,638.57 220.05,639.55 222.30,640.00 C224.55,640.45 223.78,639.00 225.00,639.60 C226.22,640.20 227.03,642.93 229.60,643.60 C232.17,644.27 238.10,643.58 240.40,643.60 C242.70,643.62 242.35,643.64 243.40,643.70 C244.45,643.76 245.54,643.89 246.68,643.95 C247.83,644.01 249.09,644.04 250.27,644.07 C251.44,644.10 252.57,644.15 253.72,644.13 C254.87,644.11 256.13,643.95 257.15,643.97 C258.17,643.98 258.85,644.16 259.84,644.22 C260.83,644.29 262.09,644.35 263.09,644.36 C264.08,644.36 264.78,644.25 265.80,644.27 C266.83,644.29 268.10,644.46 269.23,644.47 C270.36,644.48 271.45,644.30 272.59,644.31 C273.74,644.32 275.07,644.55 276.10,644.54 C277.13,644.53 277.85,644.27 278.78,644.26 C279.71,644.25 280.69,644.46 281.68,644.48 C282.68,644.50 283.73,644.41 284.76,644.36 C285.79,644.32 286.80,644.18 287.84,644.19 C288.89,644.21 289.92,644.45 291.02,644.44 C292.12,644.43 293.38,644.12 294.45,644.13 C295.53,644.14 296.54,644.43 297.44,644.47 C298.34,644.51 299.03,644.41 299.87,644.38 C300.70,644.35 301.50,644.31 302.47,644.30 C303.44,644.28 304.71,644.29 305.70,644.29 C306.70,644.29 307.41,644.25 308.44,644.29 C309.48,644.32 310.91,644.49 311.91,644.51 C312.91,644.53 313.53,644.41 314.45,644.41 C315.37,644.41 316.41,644.51 317.41,644.50 C318.42,644.48 319.47,644.32 320.48,644.31 C321.49,644.30 322.39,644.45 323.48,644.46 C324.57,644.47 325.98,644.37 327.02,644.36 C328.05,644.34 328.69,644.35 329.70,644.36 C330.71,644.38 331.94,644.46 333.09,644.45 C334.24,644.45 335.51,644.33 336.57,644.35 C337.64,644.36 338.44,644.58 339.50,644.55 C340.57,644.51 341.92,644.15 342.99,644.16 C344.07,644.17 344.97,644.57 345.96,644.59 C346.96,644.62 347.89,644.32 348.95,644.30 C350.02,644.28 351.25,644.48 352.36,644.48 C353.48,644.49 354.69,644.38 355.65,644.34 C356.61,644.30 357.10,644.23 358.10,644.25 C359.10,644.26 360.55,644.43 361.63,644.44 C362.72,644.45 363.54,644.30 364.63,644.31 C365.73,644.32 367.20,644.52 368.21,644.49 C369.21,644.47 369.75,644.12 370.68,644.13 C371.61,644.15 372.69,644.57 373.76,644.58 C374.83,644.59 376.00,644.23 377.10,644.22 C378.19,644.21 379.37,644.49 380.33,644.53 C381.28,644.57 381.95,644.51 382.83,644.46 C383.71,644.42 384.69,644.25 385.63,644.26 C386.57,644.27 387.49,644.54 388.49,644.52 C389.48,644.51 390.58,644.17 391.63,644.18 C392.67,644.19 393.66,644.59 394.74,644.58 C395.83,644.58 396.99,644.16 398.13,644.15 C399.27,644.14 400.62,644.52 401.60,644.54 C402.58,644.56 403.15,644.30 404.02,644.27 C404.89,644.24 405.86,644.31 406.84,644.35 C407.81,644.39 408.90,644.55 409.86,644.51 C410.81,644.46 411.64,644.09 412.56,644.08 C413.47,644.08 414.35,644.44 415.35,644.48 C416.36,644.52 417.58,644.36 418.58,644.33 C419.58,644.31 420.62,644.31 421.36,644.35 C422.10,644.40 422.73,644.56 423.00,644.60" fill="none" stroke="#aa5f16" stroke-width="2.0" stroke-linejoin="round" stroke-linecap="round"/>
<path d="M104.50,643.80 C111.75,643.80 140.08,643.97 148.00,643.80 C155.92,643.63 150.83,643.60 152.00,642.80 C153.17,642.00 154.08,641.13 155.00,639.00 C155.92,636.87 156.75,633.67 157.50,630.00 C158.25,626.33 158.83,622.00 159.50,617.00 C160.17,612.00 160.87,606.17 161.50,600.00 C162.13,593.83 162.68,586.67 163.30,580.00 C163.92,573.33 164.67,566.42 165.20,560.00 C165.73,553.58 166.02,547.13 166.50,541.50 C166.98,535.87 167.48,531.45 168.10,526.20 C168.72,520.95 169.42,514.70 170.20,510.00 C170.98,505.30 171.92,501.17 172.80,498.00 C173.68,494.83 174.55,492.58 175.50,491.00 C176.45,489.42 177.67,488.62 178.50,488.50 C179.33,488.38 179.87,489.15 180.50,490.30 C181.13,491.45 181.35,491.35 182.30,495.40 C183.25,499.45 184.78,508.20 186.20,514.60 C187.62,521.00 189.27,526.75 190.80,533.80 C192.33,540.85 193.62,548.28 195.40,556.90 C197.18,565.52 199.07,577.57 201.50,585.50 C203.93,593.43 207.30,599.27 210.00,604.50 C212.70,609.73 215.20,613.48 217.70,616.90 C220.20,620.32 222.50,622.50 225.00,625.00 C227.50,627.50 230.13,630.10 232.70,631.90 C235.27,633.70 237.83,634.65 240.40,635.80 C242.97,636.95 245.53,638.03 248.10,638.80 C250.67,639.57 252.98,639.75 255.80,640.40 C258.62,641.05 262.97,642.35 265.00,642.70 C267.03,643.05 266.97,642.47 268.00,642.51 C269.03,642.54 270.26,642.85 271.20,642.93 C272.14,643.02 272.76,643.01 273.61,642.99 C274.47,642.97 275.35,642.76 276.34,642.81 C277.33,642.87 278.52,643.30 279.57,643.34 C280.62,643.38 281.70,643.05 282.64,643.06 C283.58,643.06 284.35,643.33 285.21,643.37 C286.08,643.40 286.96,643.32 287.81,643.29 C288.65,643.26 289.45,643.13 290.28,643.18 C291.11,643.23 291.89,643.52 292.77,643.57 C293.65,643.61 294.54,643.44 295.57,643.45 C296.61,643.47 298.00,643.64 298.98,643.66 C299.97,643.67 300.54,643.56 301.46,643.56 C302.37,643.55 303.37,643.60 304.47,643.62 C305.57,643.64 307.03,643.71 308.05,643.69 C309.07,643.68 309.74,643.54 310.59,643.55 C311.44,643.55 312.20,643.71 313.15,643.74 C314.10,643.77 315.23,643.72 316.30,643.72 C317.36,643.73 318.56,643.77 319.53,643.77 C320.51,643.78 321.22,643.79 322.14,643.77 C323.05,643.74 324.02,643.59 325.02,643.61 C326.02,643.64 327.14,643.88 328.13,643.91 C329.13,643.94 329.97,643.81 330.99,643.78 C332.02,643.75 333.13,643.75 334.27,643.72 C335.41,643.69 336.77,643.59 337.84,643.60 C338.90,643.61 339.66,643.74 340.67,643.76 C341.67,643.78 342.93,643.72 343.89,643.71 C344.85,643.71 345.53,643.69 346.43,643.73 C347.33,643.77 348.23,643.98 349.27,643.97 C350.30,643.95 351.67,643.67 352.64,643.64 C353.61,643.60 354.18,643.71 355.07,643.73 C355.96,643.75 357.06,643.76 357.99,643.75 C358.92,643.74 359.73,643.65 360.65,643.69 C361.58,643.72 362.62,643.96 363.52,643.96 C364.42,643.95 365.19,643.69 366.04,643.65 C366.90,643.61 367.81,643.66 368.66,643.70 C369.50,643.75 370.23,643.92 371.10,643.90 C371.98,643.89 373.04,643.61 373.91,643.60 C374.79,643.59 375.53,643.82 376.38,643.85 C377.23,643.89 378.09,643.86 379.03,643.81 C379.96,643.76 381.01,643.54 382.00,643.55 C382.99,643.56 384.05,643.87 384.98,643.86 C385.91,643.85 386.67,643.50 387.58,643.50 C388.48,643.51 389.39,643.89 390.41,643.90 C391.44,643.91 392.76,643.59 393.71,643.57 C394.66,643.55 395.17,643.72 396.12,643.77 C397.08,643.82 398.44,643.85 399.45,643.86 C400.45,643.87 401.28,643.82 402.14,643.82 C402.99,643.82 403.58,643.92 404.58,643.87 C405.59,643.81 407.07,643.49 408.16,643.50 C409.26,643.51 410.20,643.87 411.17,643.91 C412.13,643.94 412.92,643.74 413.96,643.70 C414.99,643.67 416.34,643.66 417.35,643.69 C418.37,643.72 419.09,643.91 420.03,643.89 C420.97,643.88 422.51,643.65 423.00,643.61" fill="none" stroke="#47125d" stroke-width="2.0" stroke-linejoin="round" stroke-linecap="round"/>
<path d="M104.50,644.70 C108.42,644.70 123.60,645.10 128.00,644.70 C132.40,644.30 129.45,645.90 130.90,642.30 C132.35,638.70 134.93,632.72 136.70,623.10 C138.47,613.48 139.98,600.95 141.50,584.60 C143.02,568.25 144.60,538.90 145.80,525.00 C147.00,511.10 147.75,508.63 148.70,501.20 C149.65,493.77 150.55,485.80 151.50,480.40 C152.45,475.00 153.47,471.20 154.40,468.80 C155.33,466.40 156.20,465.88 157.10,466.00 C158.00,466.12 158.95,467.08 159.80,469.50 C160.65,471.92 161.23,475.42 162.20,480.50 C163.17,485.58 164.40,493.50 165.60,500.00 C166.80,506.50 168.15,513.22 169.40,519.50 C170.65,525.78 171.75,531.07 173.10,537.70 C174.45,544.33 175.97,552.50 177.50,559.30 C179.03,566.10 180.47,572.75 182.30,578.50 C184.13,584.25 186.45,588.93 188.50,593.80 C190.55,598.67 192.05,603.08 194.60,607.70 C197.15,612.32 200.47,617.78 203.80,621.50 C207.13,625.22 211.07,627.75 214.60,630.00 C218.13,632.25 221.98,633.40 225.00,635.00 C228.02,636.60 230.40,638.70 232.70,639.60 C235.00,640.50 236.75,639.88 238.80,640.40 C240.85,640.92 243.47,642.31 245.00,642.70 C246.53,643.09 246.97,642.62 248.00,642.72 C249.03,642.82 250.20,643.18 251.18,643.29 C252.17,643.41 252.91,643.33 253.91,643.42 C254.91,643.52 256.18,643.82 257.19,643.87 C258.20,643.92 259.01,643.71 259.95,643.72 C260.89,643.73 261.93,643.84 262.83,643.92 C263.73,644.01 264.37,644.20 265.37,644.24 C266.37,644.28 267.82,644.13 268.85,644.17 C269.88,644.22 270.59,644.48 271.56,644.51 C272.54,644.55 273.69,644.37 274.72,644.37 C275.76,644.37 276.84,644.52 277.78,644.52 C278.73,644.53 279.52,644.40 280.38,644.39 C281.24,644.38 282.09,644.40 282.93,644.46 C283.77,644.52 284.42,644.74 285.43,644.74 C286.44,644.74 287.81,644.46 289.00,644.47 C290.20,644.48 291.47,644.81 292.59,644.80 C293.71,644.78 294.66,644.35 295.72,644.35 C296.78,644.35 297.89,644.76 298.95,644.79 C300.00,644.81 301.10,644.50 302.05,644.49 C303.01,644.48 303.66,644.68 304.67,644.71 C305.68,644.73 307.11,644.66 308.12,644.63 C309.13,644.61 309.87,644.52 310.75,644.56 C311.63,644.60 312.47,644.84 313.41,644.86 C314.36,644.88 315.35,644.68 316.41,644.68 C317.48,644.67 318.78,644.81 319.80,644.82 C320.82,644.83 321.53,644.75 322.53,644.74 C323.54,644.73 324.77,644.74 325.82,644.74 C326.87,644.75 327.85,644.81 328.85,644.77 C329.85,644.73 330.83,644.50 331.83,644.51 C332.83,644.52 333.87,644.83 334.87,644.84 C335.87,644.85 336.84,644.57 337.85,644.57 C338.87,644.57 339.95,644.83 340.97,644.85 C341.98,644.86 342.87,644.70 343.94,644.67 C345.00,644.64 346.39,644.64 347.37,644.65 C348.36,644.67 348.90,644.78 349.85,644.77 C350.81,644.76 352.15,644.55 353.10,644.57 C354.04,644.59 354.53,644.89 355.52,644.90 C356.51,644.90 358.00,644.59 359.05,644.58 C360.11,644.56 360.81,644.78 361.87,644.79 C362.93,644.81 364.35,644.65 365.40,644.64 C366.45,644.64 367.17,644.76 368.16,644.76 C369.15,644.76 370.34,644.68 371.32,644.65 C372.29,644.63 373.16,644.58 374.02,644.62 C374.88,644.66 375.46,644.91 376.46,644.89 C377.47,644.88 378.99,644.55 380.04,644.52 C381.10,644.49 381.85,644.71 382.78,644.74 C383.71,644.77 384.73,644.69 385.61,644.69 C386.49,644.68 387.21,644.67 388.05,644.70 C388.90,644.73 389.68,644.89 390.69,644.88 C391.71,644.87 393.12,644.65 394.14,644.63 C395.17,644.62 395.81,644.79 396.84,644.79 C397.87,644.79 399.20,644.64 400.34,644.64 C401.48,644.64 402.59,644.80 403.65,644.79 C404.72,644.78 405.63,644.60 406.73,644.58 C407.83,644.56 409.17,644.67 410.26,644.67 C411.35,644.66 412.29,644.57 413.27,644.57 C414.24,644.56 415.04,644.60 416.11,644.63 C417.17,644.65 418.51,644.72 419.66,644.72 C420.81,644.72 422.43,644.61 422.99,644.64 C423.54,644.67 423.00,644.86 423.00,644.90" fill="none" stroke="#5aa336" stroke-width="2.0" stroke-linejoin="round" stroke-linecap="round"/>
<path d="M104.50,643.30 C112.25,643.30 142.58,643.43 151.00,643.30 C159.42,643.17 153.83,643.38 155.00,642.50 C156.17,641.62 157.08,640.42 158.00,638.00 C158.92,635.58 159.78,631.83 160.50,628.00 C161.22,624.17 161.75,619.67 162.30,615.00 C162.85,610.33 163.30,605.83 163.80,600.00 C164.30,594.17 164.85,586.67 165.30,580.00 C165.75,573.33 166.17,565.13 166.50,560.00 C166.83,554.87 166.85,554.20 167.30,549.20 C167.75,544.20 168.62,535.77 169.20,530.00 C169.78,524.23 170.22,519.73 170.80,514.60 C171.38,509.47 171.93,503.68 172.70,499.20 C173.47,494.72 174.60,490.37 175.40,487.70 C176.20,485.03 176.87,484.17 177.50,483.20 C178.13,482.23 178.65,481.93 179.20,481.90 C179.75,481.87 180.28,482.28 180.80,483.00 C181.32,483.72 181.53,483.50 182.30,486.20 C183.07,488.90 184.25,493.82 185.40,499.20 C186.55,504.58 187.92,512.08 189.20,518.50 C190.48,524.92 191.67,531.28 193.10,537.70 C194.53,544.12 196.48,551.87 197.80,557.00 C199.12,562.13 199.22,563.00 201.00,568.50 C202.78,574.00 205.97,584.08 208.50,590.00 C211.03,595.92 213.45,599.45 216.20,604.00 C218.95,608.55 222.50,614.18 225.00,617.30 C227.50,620.42 228.90,620.90 231.20,622.70 C233.50,624.50 236.67,626.38 238.80,628.10 C240.93,629.82 242.20,631.60 244.00,633.00 C245.80,634.40 247.63,636.03 249.60,636.50 C251.57,636.97 253.48,635.15 255.80,635.80 C258.12,636.45 260.93,639.38 263.50,640.40 C266.07,641.42 269.42,641.64 271.20,641.90 C272.98,642.16 273.16,642.06 274.20,641.98 C275.24,641.90 276.45,641.40 277.42,641.42 C278.39,641.45 279.18,641.99 280.04,642.15 C280.91,642.30 281.64,642.34 282.62,642.37 C283.60,642.40 284.85,642.26 285.90,642.32 C286.95,642.39 287.97,642.77 288.94,642.76 C289.90,642.75 290.67,642.27 291.69,642.28 C292.72,642.30 294.13,642.79 295.10,642.85 C296.07,642.91 296.68,642.75 297.51,642.66 C298.35,642.56 299.10,642.23 300.09,642.26 C301.08,642.29 302.34,642.80 303.46,642.83 C304.59,642.85 305.70,642.39 306.85,642.41 C308.01,642.43 309.35,642.96 310.39,642.95 C311.43,642.94 312.15,642.33 313.10,642.36 C314.05,642.39 315.08,643.07 316.09,643.14 C317.10,643.21 318.18,642.79 319.16,642.76 C320.15,642.73 321.06,642.88 322.00,642.95 C322.94,643.02 323.75,643.23 324.78,643.17 C325.80,643.11 327.00,642.63 328.16,642.60 C329.32,642.58 330.63,643.01 331.74,643.01 C332.85,643.01 333.87,642.55 334.81,642.61 C335.75,642.67 336.45,643.30 337.37,643.37 C338.29,643.43 339.37,643.07 340.30,643.00 C341.23,642.94 342.05,642.95 342.94,642.98 C343.84,643.00 344.68,643.17 345.65,643.15 C346.62,643.13 347.83,642.83 348.78,642.87 C349.72,642.91 350.46,643.37 351.33,643.40 C352.21,643.42 353.13,643.08 354.01,643.02 C354.90,642.95 355.79,642.97 356.65,643.02 C357.50,643.06 358.13,643.30 359.14,643.28 C360.14,643.26 361.55,642.88 362.68,642.88 C363.81,642.89 364.99,643.29 365.94,643.32 C366.90,643.35 367.43,643.09 368.39,643.06 C369.36,643.03 370.67,643.15 371.76,643.16 C372.85,643.16 373.92,643.15 374.93,643.09 C375.94,643.03 376.77,642.85 377.83,642.81 C378.89,642.78 380.27,642.89 381.29,642.86 C382.31,642.83 383.02,642.52 383.93,642.62 C384.85,642.71 385.88,643.43 386.78,643.42 C387.68,643.40 388.40,642.57 389.35,642.52 C390.29,642.47 391.51,643.01 392.47,643.09 C393.43,643.17 394.17,643.04 395.12,643.00 C396.08,642.95 397.23,642.78 398.22,642.83 C399.21,642.89 400.11,643.30 401.05,643.31 C401.99,643.33 402.96,642.98 403.86,642.94 C404.76,642.91 405.60,643.06 406.46,643.10 C407.32,643.14 408.16,643.26 408.99,643.20 C409.83,643.13 410.55,642.66 411.48,642.71 C412.40,642.76 413.63,643.45 414.55,643.49 C415.46,643.52 416.12,642.97 416.99,642.92 C417.87,642.87 418.93,643.15 419.80,643.20 C420.67,643.25 421.67,643.16 422.21,643.21 C422.74,643.26 422.87,643.45 423.00,643.50" fill="none" stroke="#ad022c" stroke-width="2.0" stroke-linejoin="round" stroke-linecap="round"/>
<path d="M104.50,644.00 C112.00,644.00 141.33,644.20 149.50,644.00 C157.67,643.80 152.33,643.63 153.50,642.80 C154.67,641.97 155.58,641.13 156.50,639.00 C157.42,636.87 158.22,633.67 159.00,630.00 C159.78,626.33 160.48,622.00 161.20,617.00 C161.92,612.00 162.58,606.17 163.30,600.00 C164.02,593.83 164.77,586.67 165.50,580.00 C166.23,573.33 167.20,564.48 167.70,560.00 C168.20,555.52 168.05,557.47 168.50,553.10 C168.95,548.73 169.77,539.57 170.40,533.80 C171.03,528.03 171.67,523.62 172.30,518.50 C172.93,513.38 173.43,507.85 174.20,503.10 C174.97,498.35 176.10,492.80 176.90,490.00 C177.70,487.20 178.28,487.07 179.00,486.30 C179.72,485.53 180.53,485.20 181.20,485.40 C181.87,485.60 182.43,486.48 183.00,487.50 C183.57,488.52 183.82,488.90 184.60,491.50 C185.38,494.10 186.42,497.97 187.70,503.10 C188.98,508.23 190.77,515.90 192.30,522.30 C193.83,528.70 195.62,536.37 196.90,541.50 C198.18,546.63 199.07,549.18 200.00,553.10 C200.93,557.02 200.83,558.93 202.50,565.00 C204.17,571.07 207.47,583.25 210.00,589.50 C212.53,595.75 215.20,598.33 217.70,602.50 C220.20,606.67 222.75,611.38 225.00,614.50 C227.25,617.62 229.15,619.07 231.20,621.20 C233.25,623.33 235.00,625.52 237.30,627.30 C239.60,629.08 242.68,630.75 245.00,631.90 C247.32,633.05 248.90,633.17 251.20,634.20 C253.50,635.23 255.98,637.07 258.80,638.10 C261.62,639.13 265.02,639.88 268.10,640.40 C271.18,640.92 275.27,641.05 277.30,641.20 C279.33,641.35 279.22,641.19 280.30,641.30 C281.38,641.41 282.72,641.74 283.81,641.87 C284.90,641.99 285.88,641.99 286.82,642.06 C287.76,642.12 288.48,642.14 289.44,642.24 C290.40,642.35 291.65,642.60 292.60,642.68 C293.54,642.75 294.27,642.66 295.11,642.69 C295.95,642.72 296.66,642.78 297.62,642.85 C298.57,642.93 299.71,643.09 300.85,643.13 C301.98,643.18 303.30,643.08 304.43,643.10 C305.56,643.12 306.65,643.22 307.61,643.28 C308.58,643.34 309.26,643.38 310.20,643.45 C311.14,643.52 312.29,643.67 313.24,643.68 C314.18,643.69 315.02,643.53 315.86,643.51 C316.71,643.50 317.41,643.57 318.30,643.58 C319.19,643.60 320.24,643.62 321.23,643.61 C322.22,643.61 323.25,643.49 324.25,643.54 C325.26,643.59 326.26,643.87 327.25,643.90 C328.24,643.93 329.11,643.70 330.20,643.72 C331.29,643.73 332.63,644.00 333.80,643.98 C334.97,643.97 336.17,643.63 337.21,643.63 C338.24,643.63 339.06,643.91 339.98,643.96 C340.91,644.01 341.72,643.96 342.73,643.94 C343.74,643.93 344.93,643.87 346.05,643.86 C347.17,643.86 348.31,643.94 349.47,643.93 C350.63,643.91 352.02,643.74 353.02,643.77 C354.01,643.80 354.43,644.08 355.42,644.09 C356.40,644.10 357.73,643.82 358.91,643.82 C360.09,643.82 361.48,644.09 362.49,644.09 C363.50,644.08 364.00,643.78 364.97,643.78 C365.94,643.78 367.33,644.06 368.31,644.09 C369.28,644.12 369.80,643.99 370.81,643.96 C371.82,643.92 373.35,643.87 374.37,643.89 C375.39,643.91 376.07,644.06 376.91,644.07 C377.75,644.09 378.45,643.97 379.43,643.99 C380.41,644.00 381.72,644.19 382.79,644.17 C383.86,644.15 384.91,643.91 385.86,643.87 C386.81,643.83 387.62,643.90 388.49,643.92 C389.35,643.95 390.20,644.01 391.05,644.00 C391.90,644.00 392.72,643.85 393.59,643.87 C394.45,643.89 395.20,644.12 396.24,644.11 C397.28,644.09 398.75,643.79 399.81,643.76 C400.86,643.72 401.67,643.86 402.57,643.91 C403.47,643.95 404.21,644.04 405.22,644.03 C406.24,644.02 407.66,643.83 408.65,643.85 C409.64,643.87 410.31,644.13 411.17,644.15 C412.03,644.16 412.83,643.95 413.83,643.94 C414.82,643.93 416.14,644.08 417.15,644.09 C418.17,644.11 419.03,644.08 419.91,644.04 C420.79,644.00 421.90,643.83 422.42,643.85 C422.93,643.88 422.90,644.14 423.00,644.20" fill="none" stroke="#8175bb" stroke-width="2.0" stroke-linejoin="round" stroke-linecap="round"/>
<path d="M263.80,560.60 C266.50,560.60 276.53,560.95 280.00,560.60 C283.47,560.25 283.25,563.47 284.60,558.50 C285.95,553.53 287.13,541.18 288.10,530.80 C289.07,520.42 289.83,505.43 290.40,496.20 C290.97,486.97 291.02,480.70 291.50,475.40 C291.98,470.10 292.72,466.48 293.30,464.40 C293.88,462.32 294.43,462.60 295.00,462.90 C295.57,463.20 296.12,463.35 296.70,466.20 C297.28,469.05 297.63,474.23 298.50,480.00 C299.37,485.77 300.57,493.88 301.90,500.80 C303.23,507.72 304.95,515.55 306.50,521.50 C308.05,527.45 309.27,532.07 311.20,536.50 C313.13,540.93 315.60,545.02 318.10,548.10 C320.60,551.18 323.70,553.47 326.20,555.00 C328.70,556.53 330.80,556.82 333.10,557.30 C335.40,557.78 337.52,557.62 340.00,557.90 C342.48,558.18 346.27,558.76 348.00,559.00 C349.73,559.24 349.57,559.30 350.40,559.33 C351.23,559.37 352.10,559.14 352.98,559.21 C353.86,559.29 354.83,559.72 355.68,559.80 C356.52,559.89 357.19,559.71 358.03,559.73 C358.88,559.76 359.81,559.93 360.74,559.95 C361.66,559.98 362.68,559.83 363.58,559.85 C364.48,559.88 365.25,560.09 366.12,560.11 C367.00,560.13 368.03,559.96 368.81,559.97 C369.58,559.99 369.99,560.15 370.76,560.19 C371.54,560.23 372.60,560.20 373.46,560.21 C374.32,560.23 375.11,560.24 375.95,560.27 C376.79,560.31 377.75,560.46 378.50,560.43 C379.26,560.40 379.81,560.08 380.50,560.08 C381.19,560.08 381.96,560.36 382.65,560.41 C383.34,560.46 383.99,560.40 384.65,560.38 C385.31,560.37 385.81,560.31 386.62,560.32 C387.43,560.32 388.62,560.43 389.49,560.43 C390.36,560.42 391.01,560.26 391.83,560.28 C392.66,560.31 393.67,560.59 394.44,560.58 C395.21,560.57 395.65,560.22 396.46,560.21 C397.26,560.20 398.37,560.48 399.28,560.49 C400.18,560.51 401.11,560.34 401.89,560.29 C402.68,560.24 403.27,560.19 403.99,560.22 C404.71,560.24 405.50,560.44 406.19,560.44 C406.88,560.43 407.48,560.15 408.14,560.16 C408.80,560.17 409.38,560.48 410.14,560.50 C410.90,560.52 411.95,560.32 412.71,560.29 C413.48,560.26 414.03,560.28 414.71,560.32 C415.39,560.36 416.08,560.58 416.82,560.53 C417.56,560.49 418.42,560.07 419.14,560.03 C419.85,560.00 420.33,560.24 421.11,560.33 C421.89,560.43 423.35,560.56 423.80,560.60" fill="none" stroke="#aa5f16" stroke-width="1.8" stroke-linejoin="round" stroke-linecap="round"/>
<path d="M263.80,560.00 C266.67,560.00 277.33,560.25 281.00,560.00 C284.67,559.75 284.23,562.42 285.80,558.50 C287.37,554.58 289.07,545.93 290.40,536.50 C291.73,527.07 292.83,511.52 293.80,501.90 C294.77,492.28 295.42,484.57 296.20,478.80 C296.98,473.03 297.73,469.02 298.50,467.30 C299.27,465.58 299.93,466.58 300.80,468.50 C301.67,470.42 302.55,473.80 303.70,478.80 C304.85,483.80 306.27,491.77 307.70,498.50 C309.13,505.23 310.57,512.67 312.30,519.20 C314.03,525.73 315.78,532.70 318.10,537.70 C320.42,542.70 322.55,546.12 326.20,549.20 C329.85,552.28 335.70,554.60 340.00,556.20 C344.30,557.80 349.60,558.33 352.00,558.80 C354.40,559.27 353.59,559.00 354.40,559.00 C355.21,559.01 356.10,558.82 356.83,558.85 C357.56,558.88 357.99,559.11 358.76,559.17 C359.54,559.22 360.61,559.16 361.48,559.19 C362.35,559.22 363.22,559.30 363.99,559.34 C364.77,559.38 365.38,559.43 366.14,559.42 C366.89,559.41 367.68,559.25 368.52,559.28 C369.36,559.32 370.42,559.63 371.19,559.63 C371.96,559.62 372.46,559.26 373.13,559.27 C373.80,559.27 374.43,559.57 375.21,559.64 C375.99,559.71 376.99,559.72 377.81,559.70 C378.62,559.68 379.24,559.53 380.10,559.52 C380.95,559.51 382.00,559.65 382.93,559.66 C383.86,559.66 384.86,559.51 385.67,559.54 C386.48,559.58 387.04,559.86 387.82,559.85 C388.60,559.85 389.60,559.52 390.35,559.53 C391.11,559.54 391.69,559.95 392.37,559.94 C393.04,559.93 393.69,559.51 394.41,559.46 C395.13,559.40 396.00,559.54 396.70,559.60 C397.40,559.66 397.93,559.79 398.63,559.82 C399.33,559.85 400.08,559.75 400.90,559.77 C401.72,559.80 402.68,560.04 403.54,559.98 C404.41,559.92 405.31,559.44 406.07,559.41 C406.84,559.38 407.35,559.77 408.14,559.80 C408.92,559.82 409.99,559.55 410.78,559.55 C411.58,559.55 412.13,559.78 412.92,559.82 C413.71,559.87 414.73,559.87 415.53,559.82 C416.32,559.78 416.86,559.55 417.69,559.56 C418.52,559.56 419.68,559.88 420.51,559.86 C421.34,559.84 422.12,559.40 422.67,559.42 C423.21,559.45 423.61,559.90 423.80,560.00" fill="none" stroke="#47125d" stroke-width="1.8" stroke-linejoin="round" stroke-linecap="round"/>
<path d="M263.80,560.90 C266.50,560.90 276.53,561.30 280.00,560.90 C283.47,560.50 283.07,563.52 284.60,558.50 C286.13,553.48 287.85,540.23 289.20,530.80 C290.55,521.37 291.53,509.60 292.70,501.90 C293.87,494.20 295.23,488.15 296.20,484.60 C297.17,481.05 297.73,480.60 298.50,480.60 C299.27,480.60 299.85,481.62 300.80,484.60 C301.75,487.58 302.87,493.12 304.20,498.50 C305.53,503.88 307.07,510.95 308.80,516.90 C310.53,522.85 312.48,529.20 314.60,534.20 C316.72,539.20 318.62,543.43 321.50,546.90 C324.38,550.37 328.82,553.12 331.90,555.00 C334.98,556.88 336.98,557.48 340.00,558.20 C343.02,558.92 347.93,559.07 350.00,559.30 C352.07,559.53 351.61,559.52 352.40,559.56 C353.19,559.60 354.00,559.49 354.77,559.56 C355.54,559.64 356.31,559.95 357.01,560.02 C357.70,560.08 358.14,559.93 358.93,559.94 C359.73,559.95 360.94,559.99 361.76,560.06 C362.57,560.12 363.08,560.31 363.84,560.36 C364.59,560.40 365.40,560.29 366.28,560.32 C367.16,560.34 368.24,560.52 369.12,560.50 C369.99,560.49 370.65,560.19 371.53,560.23 C372.41,560.26 373.60,560.68 374.41,560.69 C375.22,560.69 375.58,560.23 376.39,560.24 C377.20,560.26 378.41,560.72 379.27,560.76 C380.13,560.80 380.73,560.52 381.55,560.49 C382.37,560.46 383.29,560.57 384.17,560.57 C385.06,560.57 385.95,560.47 386.86,560.50 C387.77,560.53 388.81,560.70 389.64,560.73 C390.46,560.75 391.12,560.70 391.83,560.67 C392.54,560.65 393.09,560.56 393.89,560.58 C394.70,560.59 395.79,560.79 396.65,560.75 C397.51,560.72 398.21,560.35 399.03,560.38 C399.85,560.40 400.73,560.84 401.59,560.89 C402.45,560.94 403.43,560.72 404.20,560.68 C404.97,560.64 405.46,560.66 406.20,560.64 C406.95,560.62 407.94,560.58 408.68,560.57 C409.41,560.56 409.85,560.54 410.61,560.58 C411.37,560.61 412.41,560.81 413.25,560.79 C414.09,560.76 414.84,560.40 415.63,560.41 C416.43,560.43 417.23,560.84 418.01,560.88 C418.78,560.93 419.46,560.73 420.30,560.70 C421.13,560.68 422.42,560.71 423.01,560.74 C423.59,560.77 423.67,560.87 423.80,560.90" fill="none" stroke="#5aa336" stroke-width="1.8" stroke-linejoin="round" stroke-linecap="round"/>
<path d="M263.80,559.80 C267.00,559.80 278.95,559.93 283.00,559.80 C287.05,559.67 286.48,560.77 288.10,559.00 C289.72,557.23 291.35,554.87 292.70,549.20 C294.05,543.53 295.15,532.88 296.20,525.00 C297.25,517.12 298.15,507.48 299.00,501.90 C299.85,496.32 300.52,493.80 301.30,491.50 C302.08,489.20 302.92,488.28 303.70,488.10 C304.48,487.92 305.15,488.28 306.00,490.40 C306.85,492.52 307.75,496.00 308.80,500.80 C309.85,505.60 310.75,513.05 312.30,519.20 C313.85,525.35 315.78,532.70 318.10,537.70 C320.42,542.70 322.55,546.02 326.20,549.20 C329.85,552.38 335.70,555.20 340.00,556.80 C344.30,558.40 349.60,558.54 352.00,558.80 C354.40,559.06 353.58,558.36 354.40,558.36 C355.22,558.37 356.14,558.80 356.95,558.84 C357.75,558.88 358.48,558.64 359.22,558.60 C359.96,558.57 360.57,558.59 361.40,558.64 C362.24,558.69 363.30,558.80 364.22,558.88 C365.14,558.96 366.03,559.02 366.93,559.12 C367.82,559.21 368.80,559.42 369.60,559.43 C370.39,559.44 370.91,559.12 371.71,559.16 C372.50,559.19 373.46,559.68 374.38,559.63 C375.30,559.57 376.35,558.80 377.23,558.81 C378.12,558.82 378.84,559.64 379.69,559.71 C380.55,559.78 381.58,559.30 382.35,559.24 C383.12,559.19 383.52,559.38 384.33,559.39 C385.14,559.39 386.30,559.28 387.19,559.27 C388.08,559.25 388.81,559.34 389.69,559.30 C390.57,559.25 391.65,559.05 392.46,558.99 C393.27,558.94 393.82,558.90 394.56,558.97 C395.30,559.04 396.13,559.39 396.92,559.40 C397.70,559.42 398.51,559.01 399.28,559.05 C400.04,559.10 400.69,559.65 401.53,559.68 C402.36,559.71 403.39,559.22 404.28,559.22 C405.18,559.23 406.03,559.72 406.88,559.70 C407.74,559.67 408.61,559.15 409.40,559.08 C410.18,559.01 410.80,559.24 411.59,559.28 C412.39,559.32 413.40,559.32 414.17,559.32 C414.94,559.33 415.49,559.25 416.21,559.32 C416.92,559.38 417.70,559.70 418.44,559.71 C419.19,559.72 419.85,559.40 420.68,559.38 C421.52,559.36 422.94,559.55 423.46,559.62 C423.98,559.69 423.74,559.77 423.80,559.80" fill="none" stroke="#ad022c" stroke-width="1.8" stroke-linejoin="round" stroke-linecap="round"/>
<path d="M263.80,560.20 C267.67,560.20 282.38,560.23 287.00,560.20 C291.62,560.17 289.78,561.45 291.50,560.00 C293.22,558.55 295.75,556.37 297.30,551.50 C298.85,546.63 299.65,536.95 300.80,530.80 C301.95,524.65 303.05,518.83 304.20,514.60 C305.35,510.37 306.63,507.22 307.70,505.40 C308.77,503.58 309.45,503.13 310.60,503.70 C311.75,504.27 313.17,505.83 314.60,508.80 C316.03,511.77 317.27,517.07 319.20,521.50 C321.13,525.93 323.88,531.35 326.20,535.40 C328.52,539.45 330.80,543.12 333.10,545.80 C335.40,548.48 337.85,549.93 340.00,551.50 C342.15,553.07 343.78,554.15 346.00,555.20 C348.22,556.25 350.57,557.18 353.30,557.80 C356.03,558.42 360.48,558.80 362.40,558.90 C364.32,559.00 364.05,558.39 364.80,558.40 C365.55,558.42 366.18,558.81 366.93,558.97 C367.68,559.14 368.49,559.38 369.30,559.39 C370.12,559.41 370.99,559.00 371.82,559.05 C372.65,559.10 373.53,559.66 374.30,559.71 C375.06,559.76 375.63,559.40 376.42,559.35 C377.20,559.30 378.22,559.35 379.02,559.40 C379.83,559.46 380.42,559.68 381.24,559.69 C382.06,559.70 383.16,559.43 383.95,559.46 C384.74,559.49 385.29,559.89 385.98,559.87 C386.66,559.84 387.35,559.34 388.04,559.31 C388.74,559.28 389.41,559.66 390.16,559.69 C390.90,559.71 391.76,559.50 392.52,559.43 C393.28,559.37 393.94,559.25 394.71,559.30 C395.48,559.35 396.28,559.65 397.15,559.72 C398.02,559.80 399.08,559.69 399.93,559.75 C400.78,559.82 401.48,560.19 402.25,560.10 C403.02,560.01 403.71,559.22 404.55,559.23 C405.40,559.23 406.53,560.05 407.34,560.13 C408.16,560.21 408.77,559.85 409.45,559.72 C410.12,559.60 410.76,559.32 411.42,559.38 C412.07,559.44 412.72,560.07 413.37,560.09 C414.02,560.11 414.52,559.54 415.29,559.52 C416.07,559.51 417.13,559.98 418.03,559.99 C418.93,560.01 419.80,559.62 420.68,559.61 C421.56,559.60 422.80,559.84 423.32,559.93 C423.84,560.03 423.72,560.16 423.80,560.20" fill="none" stroke="#8175bb" stroke-width="1.8" stroke-linejoin="round" stroke-linecap="round"/>
<path d="M104.50,1005.90 C112.75,1005.90 145.27,1006.02 154.00,1005.90 C162.73,1005.78 155.65,1006.95 156.90,1005.20 C158.15,1003.45 159.95,999.08 161.50,995.40 C163.05,991.72 164.65,987.40 166.20,983.10 C167.75,978.80 169.40,973.73 170.80,969.60 C172.20,965.47 173.32,962.08 174.60,958.30 C175.88,954.52 176.90,950.57 178.50,946.90 C180.10,943.23 181.97,938.92 184.20,936.30 C186.43,933.68 189.65,931.93 191.90,931.20 C194.15,930.47 195.45,930.43 197.70,931.90 C199.95,933.37 203.22,937.37 205.40,940.00 C207.58,942.63 209.13,945.27 210.80,947.70 C212.47,950.13 213.87,952.30 215.40,954.60 C216.93,956.90 218.47,959.32 220.00,961.50 C221.53,963.68 222.80,965.52 224.60,967.70 C226.40,969.88 229.00,972.80 230.80,974.60 C232.60,976.40 233.87,976.97 235.40,978.50 C236.93,980.03 238.20,982.52 240.00,983.80 C241.80,985.08 244.15,985.17 246.20,986.20 C248.25,987.23 249.75,988.73 252.30,990.00 C254.85,991.27 258.42,992.52 261.50,993.80 C264.58,995.08 267.72,996.80 270.80,997.70 C273.88,998.60 276.35,998.30 280.00,999.20 C283.65,1000.10 288.98,1002.13 292.70,1003.10 C296.42,1004.07 300.20,1004.68 302.30,1005.00 C304.40,1005.32 304.32,1005.01 305.30,1005.04 C306.28,1005.07 307.24,1005.18 308.16,1005.17 C309.07,1005.16 309.84,1004.93 310.78,1004.98 C311.72,1005.03 312.77,1005.42 313.80,1005.47 C314.82,1005.51 315.87,1005.24 316.93,1005.26 C317.99,1005.28 319.02,1005.52 320.13,1005.59 C321.24,1005.66 322.55,1005.68 323.59,1005.68 C324.64,1005.69 325.35,1005.56 326.40,1005.60 C327.46,1005.63 328.75,1005.91 329.94,1005.89 C331.12,1005.87 332.46,1005.50 333.51,1005.49 C334.55,1005.49 335.32,1005.80 336.21,1005.88 C337.10,1005.96 337.99,1005.98 338.86,1005.96 C339.74,1005.95 340.46,1005.76 341.45,1005.77 C342.43,1005.77 343.74,1005.95 344.78,1005.98 C345.81,1006.01 346.77,1006.00 347.68,1005.97 C348.60,1005.94 349.35,1005.80 350.26,1005.80 C351.18,1005.80 352.17,1005.95 353.16,1005.96 C354.15,1005.97 355.14,1005.88 356.22,1005.87 C357.30,1005.86 358.60,1005.88 359.66,1005.92 C360.72,1005.96 361.68,1006.17 362.58,1006.13 C363.48,1006.10 364.19,1005.76 365.08,1005.71 C365.97,1005.67 367.02,1005.76 367.91,1005.84 C368.81,1005.91 369.47,1006.19 370.45,1006.17 C371.43,1006.14 372.69,1005.71 373.81,1005.67 C374.93,1005.64 376.22,1005.89 377.18,1005.96 C378.15,1006.03 378.82,1006.08 379.63,1006.08 C380.43,1006.08 381.18,1005.96 382.03,1005.94 C382.87,1005.92 383.73,1005.97 384.68,1005.97 C385.63,1005.98 386.66,1005.96 387.73,1005.96 C388.80,1005.97 390.13,1005.99 391.10,1006.00 C392.08,1006.01 392.65,1006.07 393.56,1006.04 C394.48,1006.01 395.57,1005.85 396.58,1005.84 C397.59,1005.82 398.70,1005.87 399.64,1005.93 C400.58,1005.99 401.39,1006.17 402.23,1006.18 C403.06,1006.19 403.73,1006.04 404.67,1005.98 C405.62,1005.92 406.87,1005.78 407.89,1005.80 C408.90,1005.83 409.87,1006.14 410.76,1006.13 C411.66,1006.12 412.42,1005.78 413.24,1005.75 C414.06,1005.73 414.73,1005.90 415.69,1005.97 C416.65,1006.03 417.93,1006.18 419.01,1006.15 C420.10,1006.12 421.54,1005.78 422.20,1005.79 C422.86,1005.80 422.87,1006.13 423.00,1006.20" fill="none" stroke="#aa5f16" stroke-width="1.85" stroke-linejoin="round" stroke-linecap="round"/>
<path d="M104.50,1005.70 C113.75,1005.70 150.23,1005.75 160.00,1005.70 C169.77,1005.65 161.30,1006.10 163.10,1005.40 C164.90,1004.70 168.50,1003.17 170.80,1001.50 C173.10,999.83 175.30,997.12 176.90,995.40 C178.50,993.68 178.53,993.52 180.40,991.20 C182.27,988.88 185.53,984.07 188.10,981.50 C190.67,978.93 193.23,976.92 195.80,975.80 C198.37,974.68 201.27,974.73 203.50,974.80 C205.73,974.87 206.70,975.33 209.20,976.20 C211.70,977.07 215.42,978.73 218.50,980.00 C221.58,981.27 224.63,982.65 227.70,983.80 C230.77,984.95 233.82,986.00 236.90,986.90 C239.98,987.80 243.12,988.25 246.20,989.20 C249.28,990.15 251.82,991.50 255.40,992.60 C258.98,993.70 263.60,994.77 267.70,995.80 C271.80,996.83 275.83,997.83 280.00,998.80 C284.17,999.77 288.98,1000.87 292.70,1001.60 C296.42,1002.33 298.58,1002.70 302.30,1003.20 C306.02,1003.70 312.38,1004.35 315.00,1004.60 C317.62,1004.85 316.90,1004.69 318.00,1004.73 C319.10,1004.76 320.46,1004.78 321.58,1004.80 C322.69,1004.81 323.58,1004.76 324.69,1004.82 C325.79,1004.87 327.01,1005.08 328.20,1005.13 C329.38,1005.18 330.76,1005.08 331.79,1005.14 C332.82,1005.19 333.38,1005.46 334.40,1005.45 C335.42,1005.44 336.72,1005.08 337.90,1005.07 C339.08,1005.07 340.33,1005.37 341.48,1005.42 C342.62,1005.46 343.80,1005.33 344.79,1005.34 C345.78,1005.36 346.57,1005.44 347.43,1005.49 C348.28,1005.53 348.90,1005.63 349.90,1005.63 C350.90,1005.63 352.31,1005.52 353.41,1005.49 C354.51,1005.45 355.43,1005.42 356.50,1005.44 C357.57,1005.45 358.79,1005.58 359.84,1005.58 C360.89,1005.58 361.81,1005.39 362.81,1005.41 C363.81,1005.43 364.84,1005.67 365.84,1005.69 C366.83,1005.72 367.78,1005.56 368.76,1005.55 C369.73,1005.54 370.74,1005.59 371.66,1005.64 C372.59,1005.69 373.41,1005.82 374.33,1005.83 C375.25,1005.84 376.20,1005.75 377.17,1005.69 C378.15,1005.63 379.13,1005.44 380.19,1005.46 C381.26,1005.47 382.49,1005.74 383.56,1005.76 C384.63,1005.77 385.59,1005.55 386.60,1005.55 C387.61,1005.56 388.58,1005.78 389.62,1005.77 C390.65,1005.76 391.81,1005.49 392.83,1005.48 C393.86,1005.47 394.72,1005.64 395.77,1005.69 C396.81,1005.74 398.06,1005.81 399.11,1005.79 C400.17,1005.78 401.14,1005.62 402.09,1005.61 C403.04,1005.59 403.78,1005.67 404.80,1005.68 C405.82,1005.69 407.11,1005.66 408.21,1005.67 C409.32,1005.68 410.42,1005.69 411.45,1005.73 C412.48,1005.76 413.49,1005.88 414.39,1005.88 C415.29,1005.88 415.88,1005.79 416.85,1005.74 C417.82,1005.69 419.17,1005.55 420.20,1005.58 C421.22,1005.61 422.53,1005.85 423.00,1005.90" fill="none" stroke="#47125d" stroke-width="1.85" stroke-linejoin="round" stroke-linecap="round"/>
<path d="M104.50,1006.20 C110.92,1006.20 136.05,1006.37 143.00,1006.20 C149.95,1006.03 144.65,1006.23 146.20,1005.20 C147.75,1004.17 150.25,1002.40 152.30,1000.00 C154.35,997.60 156.45,994.38 158.50,990.80 C160.55,987.22 162.55,982.10 164.60,978.50 C166.65,974.90 168.75,971.65 170.80,969.20 C172.85,966.75 175.03,965.08 176.90,963.80 C178.77,962.52 180.45,962.23 182.00,961.50 C183.55,960.77 184.55,959.52 186.20,959.40 C187.85,959.28 189.60,960.07 191.90,960.80 C194.20,961.53 197.12,962.40 200.00,963.80 C202.88,965.20 206.12,967.40 209.20,969.20 C212.28,971.00 215.42,972.93 218.50,974.60 C221.58,976.27 224.63,977.78 227.70,979.20 C230.77,980.62 233.82,981.82 236.90,983.10 C239.98,984.38 243.12,985.62 246.20,986.90 C249.28,988.18 252.33,989.65 255.40,990.80 C258.47,991.95 260.50,992.65 264.60,993.80 C268.70,994.95 275.32,996.53 280.00,997.70 C284.68,998.87 288.98,999.95 292.70,1000.80 C296.42,1001.65 298.45,1002.20 302.30,1002.80 C306.15,1003.40 313.05,1004.08 315.80,1004.40 C318.55,1004.72 317.90,1004.67 318.80,1004.73 C319.70,1004.80 320.38,1004.72 321.23,1004.76 C322.08,1004.81 322.88,1004.88 323.90,1004.99 C324.92,1005.10 326.26,1005.38 327.37,1005.44 C328.48,1005.51 329.52,1005.35 330.56,1005.38 C331.61,1005.42 332.59,1005.59 333.64,1005.64 C334.70,1005.70 335.80,1005.71 336.88,1005.72 C337.96,1005.74 339.18,1005.67 340.12,1005.74 C341.06,1005.80 341.71,1006.07 342.54,1006.11 C343.36,1006.15 344.24,1006.00 345.08,1005.97 C345.91,1005.95 346.69,1005.93 347.55,1005.98 C348.42,1006.04 349.28,1006.25 350.27,1006.29 C351.26,1006.34 352.42,1006.28 353.48,1006.25 C354.54,1006.22 355.70,1006.06 356.63,1006.10 C357.57,1006.14 358.24,1006.46 359.08,1006.48 C359.92,1006.50 360.82,1006.27 361.69,1006.23 C362.56,1006.19 363.46,1006.19 364.30,1006.24 C365.15,1006.29 365.85,1006.52 366.75,1006.53 C367.65,1006.54 368.63,1006.32 369.71,1006.30 C370.79,1006.29 372.13,1006.43 373.24,1006.45 C374.34,1006.46 375.38,1006.42 376.35,1006.39 C377.32,1006.35 378.03,1006.18 379.08,1006.22 C380.13,1006.26 381.47,1006.60 382.64,1006.61 C383.82,1006.62 384.95,1006.32 386.13,1006.30 C387.31,1006.27 388.55,1006.45 389.72,1006.45 C390.90,1006.45 391.99,1006.33 393.16,1006.30 C394.33,1006.27 395.72,1006.24 396.73,1006.29 C397.75,1006.34 398.31,1006.62 399.25,1006.61 C400.20,1006.61 401.30,1006.28 402.42,1006.26 C403.54,1006.25 404.82,1006.49 405.96,1006.52 C407.10,1006.55 408.13,1006.44 409.25,1006.43 C410.37,1006.42 411.63,1006.42 412.69,1006.45 C413.75,1006.48 414.68,1006.62 415.61,1006.61 C416.54,1006.59 417.36,1006.41 418.26,1006.37 C419.17,1006.32 420.24,1006.28 421.03,1006.34 C421.82,1006.39 422.67,1006.64 423.00,1006.70" fill="none" stroke="#5aa336" stroke-width="1.85" stroke-linejoin="round" stroke-linecap="round"/>
<path d="M104.50,1005.00 C112.58,1005.00 144.52,1004.93 153.00,1005.00 C161.48,1005.07 153.98,1005.98 155.40,1005.40 C156.82,1004.82 159.45,1003.93 161.50,1001.50 C163.55,999.07 165.65,994.38 167.70,990.80 C169.75,987.22 171.68,984.10 173.80,980.00 C175.92,975.90 178.02,970.27 180.40,966.20 C182.78,962.13 185.53,958.33 188.10,955.60 C190.67,952.87 193.82,950.87 195.80,949.80 C197.78,948.73 198.27,949.42 200.00,949.20 C201.73,948.98 203.63,947.73 206.20,948.50 C208.77,949.27 212.33,951.75 215.40,953.80 C218.47,955.85 222.03,958.73 224.60,960.80 C227.17,962.87 228.75,964.42 230.80,966.20 C232.85,967.98 235.12,970.35 236.90,971.50 C238.68,972.65 239.95,972.07 241.50,973.10 C243.05,974.13 244.40,976.30 246.20,977.70 C248.00,979.10 250.25,980.22 252.30,981.50 C254.35,982.78 256.45,984.23 258.50,985.40 C260.55,986.57 262.30,987.35 264.60,988.50 C266.90,989.65 269.73,991.28 272.30,992.30 C274.87,993.32 276.60,993.60 280.00,994.60 C283.40,995.60 288.98,997.37 292.70,998.30 C296.42,999.23 299.10,999.72 302.30,1000.20 C305.50,1000.68 308.70,1000.88 311.90,1001.20 C315.10,1001.52 317.65,1001.78 321.50,1002.10 C325.35,1002.42 332.25,1003.06 335.00,1003.10 C337.75,1003.14 336.98,1002.32 338.00,1002.36 C339.02,1002.40 340.12,1003.26 341.14,1003.35 C342.17,1003.44 343.24,1002.94 344.15,1002.92 C345.06,1002.91 345.66,1003.16 346.59,1003.26 C347.53,1003.36 348.82,1003.54 349.77,1003.54 C350.73,1003.53 351.40,1003.25 352.31,1003.23 C353.21,1003.22 354.18,1003.42 355.20,1003.42 C356.21,1003.43 357.42,1003.30 358.38,1003.28 C359.33,1003.25 359.94,1003.15 360.92,1003.27 C361.90,1003.39 363.30,1003.96 364.26,1003.98 C365.22,1004.00 365.71,1003.52 366.70,1003.38 C367.68,1003.24 369.08,1003.06 370.16,1003.16 C371.24,1003.26 372.18,1003.92 373.17,1003.98 C374.16,1004.03 375.18,1003.54 376.08,1003.48 C376.99,1003.42 377.72,1003.53 378.58,1003.62 C379.44,1003.72 380.24,1004.12 381.24,1004.04 C382.25,1003.96 383.60,1003.23 384.61,1003.14 C385.62,1003.06 386.44,1003.43 387.29,1003.54 C388.15,1003.65 388.79,1003.91 389.73,1003.82 C390.67,1003.72 391.92,1002.95 392.94,1002.99 C393.95,1003.02 394.86,1003.91 395.81,1004.04 C396.77,1004.17 397.72,1003.86 398.66,1003.76 C399.60,1003.65 400.40,1003.36 401.44,1003.42 C402.49,1003.49 403.83,1004.13 404.92,1004.16 C406.01,1004.19 406.92,1003.69 407.98,1003.59 C409.03,1003.49 410.25,1003.50 411.25,1003.57 C412.24,1003.64 413.02,1004.13 413.97,1004.03 C414.92,1003.93 415.91,1002.95 416.95,1002.97 C417.98,1002.99 419.19,1004.06 420.19,1004.14 C421.20,1004.22 422.50,1003.40 422.97,1003.43 C423.43,1003.45 422.99,1004.15 423.00,1004.30" fill="none" stroke="#ad022c" stroke-width="1.85" stroke-linejoin="round" stroke-linecap="round"/>
<path d="M104.50,1005.40 C113.42,1005.40 148.50,1005.43 158.00,1005.40 C167.50,1005.37 159.88,1006.10 161.50,1005.20 C163.12,1004.30 165.65,1002.15 167.70,1000.00 C169.75,997.85 172.00,994.73 173.80,992.30 C175.60,989.87 176.43,988.15 178.50,985.40 C180.57,982.65 183.65,978.37 186.20,975.80 C188.75,973.23 191.57,971.28 193.80,970.00 C196.03,968.72 197.03,967.85 199.60,968.10 C202.17,968.35 206.05,970.15 209.20,971.50 C212.35,972.85 215.42,974.65 218.50,976.20 C221.58,977.75 224.63,979.40 227.70,980.80 C230.77,982.20 233.82,983.20 236.90,984.60 C239.98,986.00 243.12,987.78 246.20,989.20 C249.28,990.62 251.82,992.07 255.40,993.10 C258.98,994.13 263.60,994.50 267.70,995.40 C271.80,996.30 275.83,997.50 280.00,998.50 C284.17,999.50 288.98,1000.62 292.70,1001.40 C296.42,1002.18 298.58,1002.67 302.30,1003.20 C306.02,1003.73 312.38,1004.42 315.00,1004.60 C317.62,1004.78 317.10,1004.28 318.00,1004.30 C318.90,1004.32 319.56,1004.67 320.40,1004.71 C321.25,1004.76 322.12,1004.58 323.07,1004.59 C324.01,1004.60 325.06,1004.70 326.09,1004.77 C327.12,1004.85 328.32,1005.04 329.26,1005.04 C330.21,1005.03 330.80,1004.81 331.75,1004.76 C332.70,1004.71 333.87,1004.70 334.99,1004.74 C336.11,1004.77 337.51,1004.90 338.49,1004.94 C339.48,1004.99 339.98,1005.00 340.91,1005.02 C341.84,1005.04 343.01,1005.09 344.08,1005.07 C345.16,1005.05 346.33,1004.94 347.35,1004.91 C348.38,1004.87 349.17,1004.81 350.21,1004.87 C351.25,1004.92 352.56,1005.26 353.59,1005.26 C354.62,1005.26 355.44,1004.92 356.38,1004.88 C357.33,1004.84 358.25,1004.95 359.27,1005.01 C360.29,1005.06 361.46,1005.24 362.51,1005.21 C363.55,1005.19 364.49,1004.83 365.56,1004.84 C366.63,1004.86 367.90,1005.25 368.95,1005.31 C370.00,1005.37 370.91,1005.25 371.85,1005.20 C372.78,1005.15 373.64,1004.98 374.57,1005.01 C375.49,1005.04 376.46,1005.36 377.39,1005.35 C378.33,1005.34 379.18,1004.98 380.18,1004.96 C381.18,1004.94 382.30,1005.20 383.41,1005.25 C384.52,1005.30 385.71,1005.28 386.83,1005.24 C387.95,1005.19 389.13,1004.96 390.13,1004.98 C391.13,1004.99 391.97,1005.28 392.86,1005.32 C393.75,1005.35 394.52,1005.21 395.47,1005.16 C396.41,1005.12 397.49,1005.01 398.51,1005.04 C399.53,1005.08 400.64,1005.36 401.58,1005.35 C402.53,1005.35 403.18,1005.06 404.16,1005.01 C405.14,1004.97 406.37,1005.06 407.47,1005.10 C408.56,1005.13 409.76,1005.23 410.73,1005.21 C411.70,1005.19 412.43,1004.98 413.29,1004.99 C414.16,1005.00 414.93,1005.24 415.91,1005.28 C416.89,1005.32 418.12,1005.24 419.17,1005.22 C420.22,1005.20 421.56,1005.13 422.20,1005.16 C422.84,1005.19 422.87,1005.36 423.00,1005.40" fill="none" stroke="#8175bb" stroke-width="1.85" stroke-linejoin="round" stroke-linecap="round"/>
<line x1="250.80" y1="93.00" x2="250.80" y2="206.55" stroke="#000" stroke-width="1.7" stroke-linecap="butt"/>
<line x1="244.20" y1="205.70" x2="416.50" y2="205.70" stroke="#000" stroke-width="1.7" stroke-linecap="butt"/>
<text transform="translate(232.54,208.23) scale(1.080,1)" font-size="8.70" fill="#000" stroke="#000" stroke-width="0.12">0</text>
<line x1="244.20" y1="179.07" x2="250.80" y2="179.07" stroke="#000" stroke-width="1.7" stroke-linecap="butt"/>
<text transform="translate(222.08,181.60) scale(1.080,1)" font-size="8.70" fill="#000" stroke="#000" stroke-width="0.12">100</text>
<line x1="244.20" y1="152.44" x2="250.80" y2="152.44" stroke="#000" stroke-width="1.7" stroke-linecap="butt"/>
<text transform="translate(222.08,154.97) scale(1.080,1)" font-size="8.70" fill="#000" stroke="#000" stroke-width="0.12">200</text>
<line x1="244.20" y1="125.81" x2="250.80" y2="125.81" stroke="#000" stroke-width="1.7" stroke-linecap="butt"/>
<text transform="translate(222.08,128.34) scale(1.080,1)" font-size="8.70" fill="#000" stroke="#000" stroke-width="0.12">300</text>
<line x1="244.20" y1="99.18" x2="250.80" y2="99.18" stroke="#000" stroke-width="1.7" stroke-linecap="butt"/>
<text transform="translate(222.08,101.71) scale(1.080,1)" font-size="8.70" fill="#000" stroke="#000" stroke-width="0.12">400</text>
<line x1="250.80" y1="204.90" x2="250.80" y2="211.80" stroke="#000" stroke-width="1.7" stroke-linecap="butt"/>
<text transform="translate(248.18,226.40) scale(1.080,1)" font-size="8.70" fill="#000" stroke="#000" stroke-width="0.12">0</text>
<line x1="290.67" y1="204.90" x2="290.67" y2="211.80" stroke="#000" stroke-width="1.7" stroke-linecap="butt"/>
<text transform="translate(285.28,226.40) scale(1.080,1)" font-size="8.70" fill="#000" stroke="#000" stroke-width="0.12">10</text>
<line x1="330.54" y1="204.90" x2="330.54" y2="211.80" stroke="#000" stroke-width="1.7" stroke-linecap="butt"/>
<text transform="translate(325.27,226.40) scale(1.080,1)" font-size="8.70" fill="#000" stroke="#000" stroke-width="0.12">20</text>
<line x1="370.41" y1="204.90" x2="370.41" y2="211.80" stroke="#000" stroke-width="1.7" stroke-linecap="butt"/>
<text transform="translate(365.20,226.40) scale(1.080,1)" font-size="8.70" fill="#000" stroke="#000" stroke-width="0.12">30</text>
<line x1="410.28" y1="204.90" x2="410.28" y2="211.80" stroke="#000" stroke-width="1.7" stroke-linecap="butt"/>
<text transform="translate(405.14,226.40) scale(1.080,1)" font-size="8.70" fill="#000" stroke="#000" stroke-width="0.12">40</text>
<text transform="translate(311.41,246.70) scale(0.643,1)" font-size="13.20" fill="#000" stroke="#000" stroke-width="0.55">Time</text>
<text transform="translate(333.57,246.70) scale(0.764,1)" font-size="13.20" fill="#000" stroke="#000" stroke-width="0.55">(min)</text>
<text transform="translate(212.00,138.76) rotate(-90) scale(0.683,1)" font-size="13.20" stroke="#000" stroke-width="0.55">(nM)</text>
<text transform="translate(212.00,182.21) rotate(-90) scale(0.704,1)" font-size="13.20" stroke="#000" stroke-width="0.55">Thrombin</text>
<text transform="translate(306.07,89.60) scale(1.054,1)" font-size="12.57" fill="#000" stroke="#000" stroke-width="0.1">5 pM TF</text>
<line x1="263.80" y1="448.10" x2="263.80" y2="561.65" stroke="#000" stroke-width="1.7" stroke-linecap="butt"/>
<line x1="257.50" y1="560.80" x2="429.90" y2="560.80" stroke="#000" stroke-width="1.7" stroke-linecap="butt"/>
<text transform="translate(245.94,563.33) scale(1.080,1)" font-size="8.70" fill="#000" stroke="#000" stroke-width="0.12">0</text>
<line x1="257.50" y1="543.05" x2="263.80" y2="543.05" stroke="#000" stroke-width="1.7" stroke-linecap="butt"/>
<text transform="translate(240.72,545.58) scale(1.080,1)" font-size="8.70" fill="#000" stroke="#000" stroke-width="0.12">50</text>
<line x1="257.50" y1="525.30" x2="263.80" y2="525.30" stroke="#000" stroke-width="1.7" stroke-linecap="butt"/>
<text transform="translate(235.48,527.83) scale(1.080,1)" font-size="8.70" fill="#000" stroke="#000" stroke-width="0.12">100</text>
<line x1="257.50" y1="507.55" x2="263.80" y2="507.55" stroke="#000" stroke-width="1.7" stroke-linecap="butt"/>
<text transform="translate(235.48,510.08) scale(1.080,1)" font-size="8.70" fill="#000" stroke="#000" stroke-width="0.12">150</text>
<line x1="257.50" y1="489.80" x2="263.80" y2="489.80" stroke="#000" stroke-width="1.7" stroke-linecap="butt"/>
<text transform="translate(235.48,492.33) scale(1.080,1)" font-size="8.70" fill="#000" stroke="#000" stroke-width="0.12">200</text>
<line x1="257.50" y1="472.05" x2="263.80" y2="472.05" stroke="#000" stroke-width="1.7" stroke-linecap="butt"/>
<text transform="translate(235.48,474.58) scale(1.080,1)" font-size="8.70" fill="#000" stroke="#000" stroke-width="0.12">250</text>
<line x1="257.50" y1="454.30" x2="263.80" y2="454.30" stroke="#000" stroke-width="1.7" stroke-linecap="butt"/>
<text transform="translate(235.48,456.83) scale(1.080,1)" font-size="8.70" fill="#000" stroke="#000" stroke-width="0.12">300</text>
<line x1="263.80" y1="560.00" x2="263.80" y2="566.90" stroke="#000" stroke-width="1.7" stroke-linecap="butt"/>
<text transform="translate(261.18,581.30) scale(1.080,1)" font-size="8.70" fill="#000" stroke="#000" stroke-width="0.12">0</text>
<line x1="303.80" y1="560.00" x2="303.80" y2="566.90" stroke="#000" stroke-width="1.7" stroke-linecap="butt"/>
<text transform="translate(298.41,581.30) scale(1.080,1)" font-size="8.70" fill="#000" stroke="#000" stroke-width="0.12">10</text>
<line x1="343.80" y1="560.00" x2="343.80" y2="566.90" stroke="#000" stroke-width="1.7" stroke-linecap="butt"/>
<text transform="translate(338.53,581.30) scale(1.080,1)" font-size="8.70" fill="#000" stroke="#000" stroke-width="0.12">20</text>
<line x1="383.80" y1="560.00" x2="383.80" y2="566.90" stroke="#000" stroke-width="1.7" stroke-linecap="butt"/>
<text transform="translate(378.59,581.30) scale(1.080,1)" font-size="8.70" fill="#000" stroke="#000" stroke-width="0.12">30</text>
<line x1="423.80" y1="560.00" x2="423.80" y2="566.90" stroke="#000" stroke-width="1.7" stroke-linecap="butt"/>
<text transform="translate(418.66,581.30) scale(1.080,1)" font-size="8.70" fill="#000" stroke="#000" stroke-width="0.12">40</text>
<text transform="translate(324.41,601.50) scale(0.643,1)" font-size="13.20" fill="#000" stroke="#000" stroke-width="0.55">Time</text>
<text transform="translate(347.29,601.50) scale(0.743,1)" font-size="13.20" fill="#000" stroke="#000" stroke-width="0.55">(min)</text>
<text transform="translate(224.80,492.58) rotate(-90) scale(0.707,1)" font-size="13.20" stroke="#000" stroke-width="0.55">(nM)</text>
<text transform="translate(224.80,535.71) rotate(-90) scale(0.698,1)" font-size="13.20" stroke="#000" stroke-width="0.55">Thrombin</text>
<text transform="translate(300.66,444.20) scale(1.048,1)" font-size="12.57" fill="#000" stroke="#000" stroke-width="0.1">DDAVP infusion</text>
<rect x="0" y="0" width="520" height="2.4" fill="#000"/>
<rect x="0" y="1079.5" width="520" height="2.5" fill="#000"/>
<rect x="0" y="0" width="2.5" height="1082" fill="#000"/>
<rect x="517.4" y="0" width="2.6" height="1082" fill="#000"/>
</svg>
</body></html>
